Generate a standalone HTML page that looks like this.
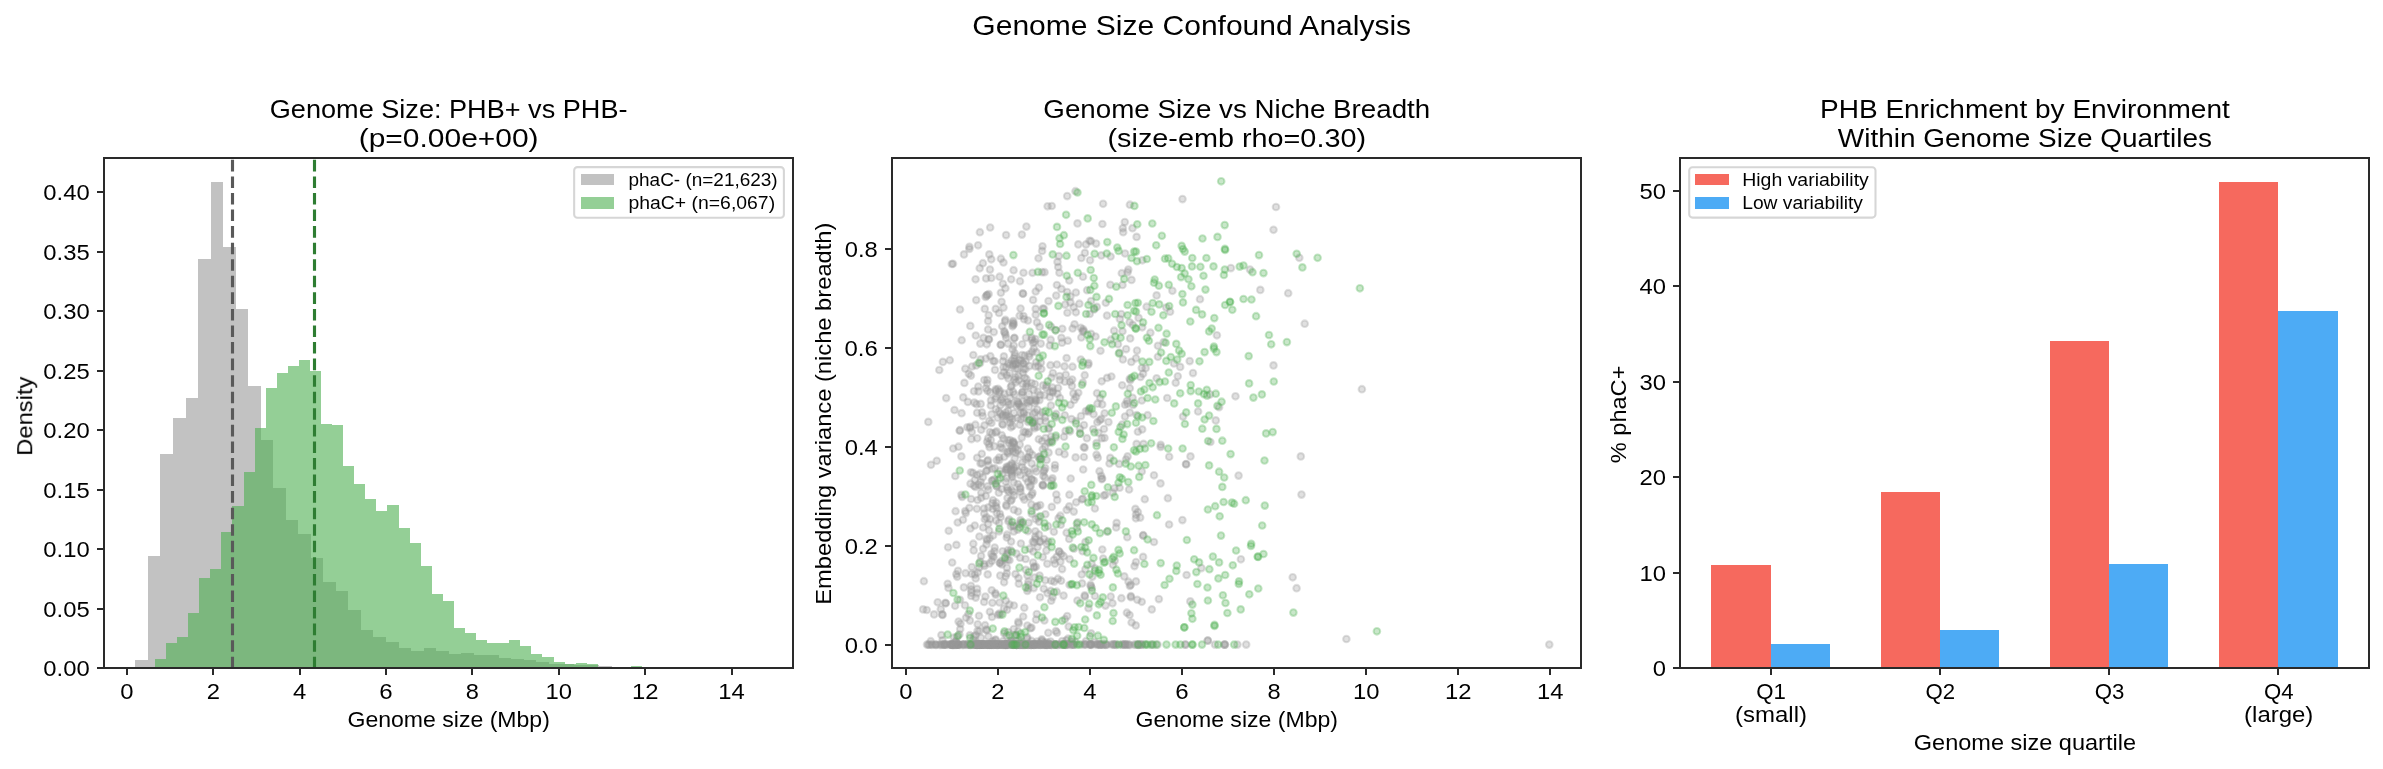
<!DOCTYPE html>
<html lang="en"><head><meta charset="utf-8"><title>Genome Size Confound Analysis</title>
<style>html,body{margin:0;padding:0;background:#fff}body{width:2383px;height:769px;overflow:hidden;font-family:"Liberation Sans",sans-serif}svg{display:block}</style>
</head><body>
<svg width="2383" height="769" viewBox="0 0 2383 769" font-family="'Liberation Sans', sans-serif" fill="#000">
<rect width="2383" height="769" fill="#fff"/>
<defs><clipPath id="c0"><rect x="104.29" y="157.5" width="688.71" height="510.78"/></clipPath><clipPath id="c1"><rect x="892.42" y="157.5" width="688.71" height="510.78"/></clipPath><clipPath id="c2"><rect x="1680.2" y="157.5" width="689.05" height="510.78"/></clipPath></defs>
<g clip-path="url(#c0)" shape-rendering="crispEdges"><g fill="#999999" fill-opacity=".6"><rect x="135.43" y="660" width="12.53" height="8.28"/><rect x="147.96" y="555.9" width="12.53" height="112.38"/><rect x="160.49" y="453.9" width="12.53" height="214.38"/><rect x="173.02" y="418" width="12.53" height="250.28"/><rect x="185.55" y="398" width="12.53" height="270.28"/><rect x="198.07" y="259.2" width="12.53" height="409.08"/><rect x="210.6" y="182.2" width="12.53" height="486.08"/><rect x="223.13" y="247" width="12.53" height="421.28"/><rect x="235.66" y="308.9" width="12.53" height="359.38"/><rect x="248.19" y="385.9" width="12.53" height="282.38"/><rect x="260.72" y="439.7" width="12.53" height="228.58"/><rect x="273.25" y="488.4" width="12.53" height="179.88"/><rect x="285.78" y="519.8" width="12.53" height="148.48"/><rect x="298.31" y="534" width="12.53" height="134.28"/><rect x="310.84" y="558.3" width="12.53" height="109.98"/><rect x="323.37" y="581.6" width="12.53" height="86.68"/><rect x="335.89" y="590.7" width="12.53" height="77.58"/><rect x="348.42" y="609.7" width="12.53" height="58.58"/><rect x="360.95" y="629.6" width="12.53" height="38.68"/><rect x="373.48" y="636.7" width="12.53" height="31.58"/><rect x="386.01" y="642.4" width="12.53" height="25.88"/><rect x="398.54" y="647.8" width="12.53" height="20.48"/><rect x="411.07" y="650.5" width="12.53" height="17.78"/><rect x="423.6" y="647.8" width="12.53" height="20.48"/><rect x="436.13" y="650.5" width="12.53" height="17.78"/><rect x="448.66" y="653.6" width="12.53" height="14.68"/><rect x="461.18" y="652.8" width="12.53" height="15.48"/><rect x="473.71" y="655" width="12.53" height="13.28"/><rect x="486.24" y="655" width="12.53" height="13.28"/><rect x="498.77" y="658" width="12.53" height="10.28"/><rect x="511.3" y="659" width="12.53" height="9.28"/><rect x="523.83" y="660" width="12.53" height="8.28"/><rect x="536.36" y="662" width="12.53" height="6.28"/><rect x="548.89" y="664" width="12.53" height="4.28"/><rect x="561.42" y="664.3" width="12.53" height="3.98"/><rect x="573.94" y="664.6" width="12.53" height="3.68"/><rect x="586.47" y="664.8" width="12.53" height="3.48"/><rect x="599" y="666.3" width="12.53" height="1.98"/><rect x="611.53" y="666.5" width="12.53" height="1.78"/><rect x="624.06" y="667.2" width="12.53" height="1.08"/><rect x="636.59" y="667.2" width="12.53" height="1.08"/><rect x="649.12" y="667.2" width="12.53" height="1.08"/><rect x="661.65" y="667.2" width="12.53" height="1.08"/><rect x="674.18" y="667.2" width="12.53" height="1.08"/><rect x="686.71" y="667.2" width="12.53" height="1.08"/><rect x="699.23" y="667.2" width="12.53" height="1.08"/><rect x="711.76" y="667.2" width="12.53" height="1.08"/><rect x="724.29" y="667.2" width="12.53" height="1.08"/><rect x="736.82" y="667.2" width="12.53" height="1.08"/><rect x="749.35" y="667.2" width="12.53" height="1.08"/></g><g fill="#4CAF50" fill-opacity=".6"><rect x="154.93" y="659.3" width="11.07" height="8.98"/><rect x="166" y="642.8" width="11.07" height="25.48"/><rect x="177.07" y="636.7" width="11.07" height="31.58"/><rect x="188.15" y="613" width="11.07" height="55.28"/><rect x="199.22" y="577.9" width="11.07" height="90.38"/><rect x="210.29" y="568.8" width="11.07" height="99.48"/><rect x="221.36" y="532" width="11.07" height="136.28"/><rect x="232.43" y="506.3" width="11.07" height="161.98"/><rect x="243.51" y="471.8" width="11.07" height="196.48"/><rect x="254.58" y="427.6" width="11.07" height="240.68"/><rect x="265.65" y="387.9" width="11.07" height="280.38"/><rect x="276.72" y="373" width="11.07" height="295.28"/><rect x="287.79" y="365.9" width="11.07" height="302.38"/><rect x="298.87" y="359.9" width="11.07" height="308.38"/><rect x="309.94" y="370.7" width="11.07" height="297.58"/><rect x="321.01" y="423.9" width="11.07" height="244.38"/><rect x="332.08" y="424.9" width="11.07" height="243.38"/><rect x="343.15" y="466.1" width="11.07" height="202.18"/><rect x="354.23" y="484" width="11.07" height="184.28"/><rect x="365.3" y="498.9" width="11.07" height="169.38"/><rect x="376.37" y="510.7" width="11.07" height="157.58"/><rect x="387.44" y="504.9" width="11.07" height="163.38"/><rect x="398.51" y="527.9" width="11.07" height="140.38"/><rect x="409.59" y="542.8" width="11.07" height="125.48"/><rect x="420.66" y="565.7" width="11.07" height="102.58"/><rect x="431.73" y="594.1" width="11.07" height="74.18"/><rect x="442.8" y="600.9" width="11.07" height="67.38"/><rect x="453.87" y="627.9" width="11.07" height="40.38"/><rect x="464.95" y="632.8" width="11.07" height="35.48"/><rect x="476.02" y="640.1" width="11.07" height="28.18"/><rect x="487.09" y="643.2" width="11.07" height="25.08"/><rect x="498.16" y="643.2" width="11.07" height="25.08"/><rect x="509.23" y="640.1" width="11.07" height="28.18"/><rect x="520.31" y="646" width="11.07" height="22.28"/><rect x="531.38" y="654" width="11.07" height="14.28"/><rect x="542.45" y="656.9" width="11.07" height="11.38"/><rect x="553.52" y="662" width="11.07" height="6.28"/><rect x="564.59" y="664.1" width="11.07" height="4.18"/><rect x="575.67" y="663.1" width="11.07" height="5.18"/><rect x="586.74" y="664" width="11.07" height="4.28"/><rect x="597.81" y="667" width="11.07" height="1.28"/><rect x="608.88" y="667" width="11.07" height="1.28"/><rect x="619.95" y="667" width="11.07" height="1.28"/><rect x="631.03" y="666.1" width="11.07" height="2.18"/><rect x="642.1" y="667.3" width="11.07" height="0.98"/><rect x="653.17" y="667.3" width="11.07" height="0.98"/><rect x="664.24" y="667.3" width="11.07" height="0.98"/><rect x="675.31" y="667.3" width="11.07" height="0.98"/><rect x="686.39" y="667.3" width="11.07" height="0.98"/><rect x="697.46" y="667.3" width="11.07" height="0.98"/></g></g><g clip-path="url(#c0)" fill="none" stroke-width="3.125" stroke-dasharray="11.5625 5"><path d="M232.5 668.28V157.5" stroke="#595959"/><path d="M314.5 668.28V157.5" stroke="#2E7D32"/></g>
<g clip-path="url(#c1)" stroke-width="2.083"><g fill="#999999" fill-opacity=".3" stroke="#999999" stroke-opacity=".3"><circle cx="969.4" cy="246.8" r="3.294"/><circle cx="978.1" cy="245.3" r="3.294"/><circle cx="979.9" cy="232.2" r="3.294"/><circle cx="990.2" cy="227.5" r="3.294"/><circle cx="1006.1" cy="235.1" r="3.294"/><circle cx="1021.9" cy="234.6" r="3.294"/><circle cx="1026.4" cy="226.6" r="3.294"/><circle cx="1042.5" cy="246.3" r="3.294"/><circle cx="1047.6" cy="206.3" r="3.294"/><circle cx="1051.8" cy="206.0" r="3.294"/><circle cx="1067.2" cy="196.1" r="3.294"/><circle cx="1075.5" cy="191.2" r="3.294"/><circle cx="1077.5" cy="223.4" r="3.294"/><circle cx="1078.3" cy="244.4" r="3.294"/><circle cx="1086.0" cy="244.4" r="3.294"/><circle cx="1089.5" cy="240.8" r="3.294"/><circle cx="1103.1" cy="203.8" r="3.294"/><circle cx="1129.9" cy="204.7" r="3.294"/><circle cx="1182.5" cy="199.1" r="3.294"/><circle cx="1102.4" cy="224.0" r="3.294"/><circle cx="1124.8" cy="222.1" r="3.294"/><circle cx="1122.8" cy="228.2" r="3.294"/><circle cx="1123.2" cy="232.2" r="3.294"/><circle cx="1132.5" cy="228.2" r="3.294"/><circle cx="1136.6" cy="236.9" r="3.294"/><circle cx="1091.0" cy="241.2" r="3.294"/><circle cx="1096.1" cy="243.6" r="3.294"/><circle cx="1276.0" cy="207.0" r="3.294"/><circle cx="1273.5" cy="229.8" r="3.294"/><circle cx="1142.4" cy="260.3" r="3.294"/><circle cx="1230.9" cy="268.1" r="3.294"/><circle cx="1250.0" cy="269.6" r="3.294"/><circle cx="1299.3" cy="257.8" r="3.294"/><circle cx="1172.4" cy="290.8" r="3.294"/><circle cx="1156.6" cy="295.4" r="3.294"/><circle cx="1200.0" cy="299.2" r="3.294"/><circle cx="1260.3" cy="289.9" r="3.294"/><circle cx="1288.2" cy="293.2" r="3.294"/><circle cx="1146.6" cy="306.7" r="3.294"/><circle cx="1166.3" cy="307.6" r="3.294"/><circle cx="1170.1" cy="311.7" r="3.294"/><circle cx="1138.6" cy="317.9" r="3.294"/><circle cx="1142.2" cy="327.3" r="3.294"/><circle cx="1150.4" cy="332.7" r="3.294"/><circle cx="1163.7" cy="342.0" r="3.294"/><circle cx="1157.9" cy="345.8" r="3.294"/><circle cx="1216.9" cy="335.3" r="3.294"/><circle cx="1304.7" cy="323.7" r="3.294"/><circle cx="1137.0" cy="350.6" r="3.294"/><circle cx="1157.9" cy="356.8" r="3.294"/><circle cx="1136.0" cy="358.3" r="3.294"/><circle cx="1174.0" cy="363.5" r="3.294"/><circle cx="1180.2" cy="366.9" r="3.294"/><circle cx="1189.7" cy="361.1" r="3.294"/><circle cx="1141.8" cy="368.0" r="3.294"/><circle cx="1145.7" cy="368.2" r="3.294"/><circle cx="1143.1" cy="373.8" r="3.294"/><circle cx="1140.5" cy="377.0" r="3.294"/><circle cx="1156.6" cy="378.3" r="3.294"/><circle cx="1177.8" cy="376.3" r="3.294"/><circle cx="1175.7" cy="382.8" r="3.294"/><circle cx="1193.0" cy="373.1" r="3.294"/><circle cx="1167.2" cy="398.0" r="3.294"/><circle cx="1141.8" cy="400.5" r="3.294"/><circle cx="1210.0" cy="394.4" r="3.294"/><circle cx="1235.5" cy="396.3" r="3.294"/><circle cx="1219.1" cy="407.2" r="3.294"/><circle cx="1198.1" cy="411.5" r="3.294"/><circle cx="1183.0" cy="416.6" r="3.294"/><circle cx="1215.8" cy="420.4" r="3.294"/><circle cx="1147.6" cy="415.2" r="3.294"/><circle cx="1136.6" cy="415.0" r="3.294"/><circle cx="1142.2" cy="429.4" r="3.294"/><circle cx="1137.9" cy="431.7" r="3.294"/><circle cx="1143.5" cy="443.9" r="3.294"/><circle cx="1160.7" cy="444.8" r="3.294"/><circle cx="1136.6" cy="443.9" r="3.294"/><circle cx="1210.4" cy="442.0" r="3.294"/><circle cx="1273.5" cy="365.4" r="3.294"/><circle cx="1160.7" cy="447.0" r="3.294"/><circle cx="1169.2" cy="456.7" r="3.294"/><circle cx="1190.5" cy="456.4" r="3.294"/><circle cx="1186.0" cy="464.0" r="3.294"/><circle cx="1186.2" cy="464.4" r="3.294"/><circle cx="1141.8" cy="471.5" r="3.294"/><circle cx="1154.0" cy="475.3" r="3.294"/><circle cx="1160.5" cy="483.4" r="3.294"/><circle cx="1238.6" cy="475.6" r="3.294"/><circle cx="1300.8" cy="456.4" r="3.294"/><circle cx="1144.8" cy="499.2" r="3.294"/><circle cx="1167.9" cy="498.2" r="3.294"/><circle cx="1301.5" cy="494.6" r="3.294"/><circle cx="1137.9" cy="512.0" r="3.294"/><circle cx="1140.2" cy="517.6" r="3.294"/><circle cx="1136.0" cy="514.6" r="3.294"/><circle cx="1182.4" cy="520.1" r="3.294"/><circle cx="1169.1" cy="524.5" r="3.294"/><circle cx="1143.1" cy="535.2" r="3.294"/><circle cx="1143.3" cy="535.6" r="3.294"/><circle cx="1154.0" cy="542.0" r="3.294"/><circle cx="1143.1" cy="556.9" r="3.294"/><circle cx="1136.0" cy="562.1" r="3.294"/><circle cx="1240.9" cy="559.3" r="3.294"/><circle cx="1201.4" cy="568.1" r="3.294"/><circle cx="1186.6" cy="575.0" r="3.294"/><circle cx="1136.0" cy="581.4" r="3.294"/><circle cx="1292.7" cy="577.3" r="3.294"/><circle cx="1296.6" cy="588.2" r="3.294"/><circle cx="1158.9" cy="599.1" r="3.294"/><circle cx="1137.3" cy="599.8" r="3.294"/><circle cx="1141.8" cy="601.8" r="3.294"/><circle cx="1190.3" cy="601.4" r="3.294"/><circle cx="1151.8" cy="609.4" r="3.294"/><circle cx="1207.7" cy="640.6" r="3.294"/><circle cx="1361.9" cy="389.2" r="3.294"/><circle cx="1346.4" cy="639.0" r="3.294"/><circle cx="1549.3" cy="644.6" r="3.294"/><circle cx="1141.2" cy="644.6" r="3.294"/><circle cx="1151.0" cy="644.6" r="3.294"/><circle cx="1157.5" cy="644.6" r="3.294"/><circle cx="1185.2" cy="644.6" r="3.294"/><circle cx="1185.6" cy="644.6" r="3.294"/><circle cx="1215.0" cy="644.6" r="3.294"/><circle cx="1224.2" cy="644.6" r="3.294"/><circle cx="1224.8" cy="644.6" r="3.294"/><circle cx="1225.0" cy="644.6" r="3.294"/><circle cx="1237.4" cy="644.6" r="3.294"/><circle cx="1246.2" cy="644.6" r="3.294"/><circle cx="1207.9" cy="640.5" r="3.294"/><circle cx="942.9" cy="361.9" r="3.294"/><circle cx="949.8" cy="360.2" r="3.294"/><circle cx="939.3" cy="370.0" r="3.294"/><circle cx="946.2" cy="398.1" r="3.294"/><circle cx="928.3" cy="421.9" r="3.294"/><circle cx="936.8" cy="460.8" r="3.294"/><circle cx="931.0" cy="464.8" r="3.294"/><circle cx="951.8" cy="264.0" r="3.294"/><circle cx="948.7" cy="530.8" r="3.294"/><circle cx="948.1" cy="547.3" r="3.294"/><circle cx="923.9" cy="581.2" r="3.294"/><circle cx="947.7" cy="583.8" r="3.294"/><circle cx="948.5" cy="587.9" r="3.294"/><circle cx="937.7" cy="602.3" r="3.294"/><circle cx="945.4" cy="602.9" r="3.294"/><circle cx="945.8" cy="603.3" r="3.294"/><circle cx="923.1" cy="609.4" r="3.294"/><circle cx="926.8" cy="610.0" r="3.294"/><circle cx="934.1" cy="614.4" r="3.294"/><circle cx="942.2" cy="614.4" r="3.294"/><circle cx="942.6" cy="614.9" r="3.294"/><circle cx="940.8" cy="609.2" r="3.294"/><circle cx="985.8" cy="496.0" r="3.294"/><circle cx="1032.9" cy="422.1" r="3.294"/><circle cx="1015.5" cy="448.3" r="3.294"/><circle cx="977.7" cy="624.3" r="3.294"/><circle cx="957.7" cy="522.5" r="3.294"/><circle cx="1010.3" cy="398.0" r="3.294"/><circle cx="1024.4" cy="499.6" r="3.294"/><circle cx="999.5" cy="602.5" r="3.294"/><circle cx="1027.2" cy="415.2" r="3.294"/><circle cx="1007.7" cy="559.8" r="3.294"/><circle cx="1009.5" cy="604.5" r="3.294"/><circle cx="1006.7" cy="375.3" r="3.294"/><circle cx="975.5" cy="487.0" r="3.294"/><circle cx="1125.0" cy="404.7" r="3.294"/><circle cx="961.4" cy="456.4" r="3.294"/><circle cx="995.8" cy="506.2" r="3.294"/><circle cx="971.2" cy="589.6" r="3.294"/><circle cx="1056.1" cy="413.9" r="3.294"/><circle cx="1003.0" cy="402.2" r="3.294"/><circle cx="1013.0" cy="365.7" r="3.294"/><circle cx="1045.3" cy="580.3" r="3.294"/><circle cx="1017.0" cy="401.1" r="3.294"/><circle cx="1098.4" cy="432.8" r="3.294"/><circle cx="986.5" cy="517.4" r="3.294"/><circle cx="1030.4" cy="628.2" r="3.294"/><circle cx="999.2" cy="457.5" r="3.294"/><circle cx="1114.4" cy="488.3" r="3.294"/><circle cx="1001.3" cy="400.0" r="3.294"/><circle cx="1047.3" cy="563.8" r="3.294"/><circle cx="1101.2" cy="475.9" r="3.294"/><circle cx="1006.8" cy="537.5" r="3.294"/><circle cx="1012.3" cy="476.9" r="3.294"/><circle cx="1102.2" cy="478.5" r="3.294"/><circle cx="1020.0" cy="524.3" r="3.294"/><circle cx="1037.8" cy="391.6" r="3.294"/><circle cx="995.7" cy="389.4" r="3.294"/><circle cx="999.8" cy="562.8" r="3.294"/><circle cx="1072.5" cy="366.7" r="3.294"/><circle cx="1049.9" cy="397.1" r="3.294"/><circle cx="1028.3" cy="584.6" r="3.294"/><circle cx="1029.0" cy="394.1" r="3.294"/><circle cx="970.9" cy="375.6" r="3.294"/><circle cx="1073.9" cy="548.7" r="3.294"/><circle cx="965.0" cy="605.3" r="3.294"/><circle cx="1107.1" cy="531.6" r="3.294"/><circle cx="992.5" cy="468.9" r="3.294"/><circle cx="990.8" cy="405.5" r="3.294"/><circle cx="958.6" cy="621.6" r="3.294"/><circle cx="1008.3" cy="453.5" r="3.294"/><circle cx="1010.8" cy="471.1" r="3.294"/><circle cx="980.6" cy="359.4" r="3.294"/><circle cx="1084.9" cy="596.6" r="3.294"/><circle cx="962.1" cy="497.0" r="3.294"/><circle cx="1077.4" cy="600.5" r="3.294"/><circle cx="1036.1" cy="362.3" r="3.294"/><circle cx="976.2" cy="365.4" r="3.294"/><circle cx="1012.5" cy="419.1" r="3.294"/><circle cx="1043.8" cy="588.7" r="3.294"/><circle cx="1067.2" cy="616.1" r="3.294"/><circle cx="1027.8" cy="457.1" r="3.294"/><circle cx="1069.7" cy="559.2" r="3.294"/><circle cx="1020.9" cy="522.1" r="3.294"/><circle cx="1073.8" cy="511.6" r="3.294"/><circle cx="996.0" cy="520.5" r="3.294"/><circle cx="989.1" cy="530.5" r="3.294"/><circle cx="1006.0" cy="412.5" r="3.294"/><circle cx="1034.9" cy="384.1" r="3.294"/><circle cx="965.8" cy="513.1" r="3.294"/><circle cx="1042.6" cy="484.8" r="3.294"/><circle cx="982.0" cy="412.4" r="3.294"/><circle cx="1017.2" cy="418.0" r="3.294"/><circle cx="971.8" cy="567.0" r="3.294"/><circle cx="1010.2" cy="422.8" r="3.294"/><circle cx="1122.9" cy="359.4" r="3.294"/><circle cx="1056.9" cy="364.5" r="3.294"/><circle cx="1126.1" cy="349.1" r="3.294"/><circle cx="1022.3" cy="392.5" r="3.294"/><circle cx="1090.8" cy="586.3" r="3.294"/><circle cx="1056.7" cy="556.9" r="3.294"/><circle cx="1005.6" cy="576.3" r="3.294"/><circle cx="1096.5" cy="443.0" r="3.294"/><circle cx="1043.0" cy="485.0" r="3.294"/><circle cx="1027.6" cy="471.6" r="3.294"/><circle cx="1013.2" cy="451.6" r="3.294"/><circle cx="1015.7" cy="368.8" r="3.294"/><circle cx="1103.8" cy="495.6" r="3.294"/><circle cx="1053.9" cy="531.8" r="3.294"/><circle cx="1008.3" cy="521.2" r="3.294"/><circle cx="1006.2" cy="504.9" r="3.294"/><circle cx="1009.6" cy="372.8" r="3.294"/><circle cx="1096.5" cy="454.7" r="3.294"/><circle cx="1077.0" cy="527.8" r="3.294"/><circle cx="1010.0" cy="417.3" r="3.294"/><circle cx="1104.0" cy="429.0" r="3.294"/><circle cx="1046.4" cy="550.6" r="3.294"/><circle cx="1024.4" cy="470.1" r="3.294"/><circle cx="1014.9" cy="355.7" r="3.294"/><circle cx="1002.5" cy="448.6" r="3.294"/><circle cx="963.2" cy="397.4" r="3.294"/><circle cx="953.2" cy="448.5" r="3.294"/><circle cx="1032.0" cy="480.1" r="3.294"/><circle cx="1088.9" cy="409.6" r="3.294"/><circle cx="1011.1" cy="470.4" r="3.294"/><circle cx="965.6" cy="573.2" r="3.294"/><circle cx="973.0" cy="472.9" r="3.294"/><circle cx="1009.7" cy="451.1" r="3.294"/><circle cx="996.7" cy="508.0" r="3.294"/><circle cx="969.8" cy="635.2" r="3.294"/><circle cx="989.9" cy="611.8" r="3.294"/><circle cx="1022.2" cy="406.6" r="3.294"/><circle cx="984.2" cy="564.0" r="3.294"/><circle cx="1007.4" cy="452.1" r="3.294"/><circle cx="1056.3" cy="494.5" r="3.294"/><circle cx="1032.1" cy="351.7" r="3.294"/><circle cx="1004.1" cy="582.3" r="3.294"/><circle cx="1063.6" cy="595.6" r="3.294"/><circle cx="1046.6" cy="385.3" r="3.294"/><circle cx="1059.1" cy="551.3" r="3.294"/><circle cx="974.3" cy="402.6" r="3.294"/><circle cx="1013.9" cy="509.8" r="3.294"/><circle cx="1014.7" cy="353.1" r="3.294"/><circle cx="1046.7" cy="543.7" r="3.294"/><circle cx="995.0" cy="369.9" r="3.294"/><circle cx="1044.1" cy="539.0" r="3.294"/><circle cx="960.2" cy="629.0" r="3.294"/><circle cx="1014.3" cy="470.1" r="3.294"/><circle cx="1001.9" cy="564.4" r="3.294"/><circle cx="1040.2" cy="541.7" r="3.294"/><circle cx="1003.8" cy="372.3" r="3.294"/><circle cx="965.2" cy="511.1" r="3.294"/><circle cx="974.1" cy="636.4" r="3.294"/><circle cx="1025.8" cy="478.4" r="3.294"/><circle cx="1040.0" cy="597.3" r="3.294"/><circle cx="1048.6" cy="452.6" r="3.294"/><circle cx="981.3" cy="492.8" r="3.294"/><circle cx="1007.6" cy="440.1" r="3.294"/><circle cx="999.1" cy="531.3" r="3.294"/><circle cx="1084.7" cy="375.2" r="3.294"/><circle cx="980.7" cy="403.9" r="3.294"/><circle cx="1023.0" cy="372.8" r="3.294"/><circle cx="980.5" cy="463.5" r="3.294"/><circle cx="1129.7" cy="378.7" r="3.294"/><circle cx="1003.5" cy="367.2" r="3.294"/><circle cx="1025.7" cy="361.5" r="3.294"/><circle cx="1052.9" cy="373.1" r="3.294"/><circle cx="1010.7" cy="501.0" r="3.294"/><circle cx="1012.5" cy="349.2" r="3.294"/><circle cx="1034.2" cy="542.7" r="3.294"/><circle cx="1051.6" cy="440.7" r="3.294"/><circle cx="992.5" cy="556.1" r="3.294"/><circle cx="956.4" cy="544.9" r="3.294"/><circle cx="979.0" cy="615.8" r="3.294"/><circle cx="1055.6" cy="437.5" r="3.294"/><circle cx="1011.5" cy="446.0" r="3.294"/><circle cx="1058.5" cy="518.4" r="3.294"/><circle cx="1009.4" cy="392.2" r="3.294"/><circle cx="1014.1" cy="495.4" r="3.294"/><circle cx="1086.9" cy="438.2" r="3.294"/><circle cx="1011.1" cy="541.6" r="3.294"/><circle cx="1101.6" cy="479.1" r="3.294"/><circle cx="1043.1" cy="385.4" r="3.294"/><circle cx="1015.8" cy="382.3" r="3.294"/><circle cx="957.0" cy="636.9" r="3.294"/><circle cx="1020.4" cy="491.7" r="3.294"/><circle cx="988.8" cy="444.1" r="3.294"/><circle cx="1097.3" cy="422.2" r="3.294"/><circle cx="988.2" cy="523.8" r="3.294"/><circle cx="1082.9" cy="498.8" r="3.294"/><circle cx="1035.0" cy="398.9" r="3.294"/><circle cx="1103.2" cy="558.6" r="3.294"/><circle cx="979.1" cy="567.7" r="3.294"/><circle cx="973.7" cy="550.4" r="3.294"/><circle cx="1011.6" cy="385.5" r="3.294"/><circle cx="1029.7" cy="486.7" r="3.294"/><circle cx="1015.4" cy="377.1" r="3.294"/><circle cx="970.9" cy="585.8" r="3.294"/><circle cx="1023.5" cy="431.7" r="3.294"/><circle cx="981.1" cy="555.9" r="3.294"/><circle cx="1025.4" cy="369.0" r="3.294"/><circle cx="1031.8" cy="494.7" r="3.294"/><circle cx="1017.8" cy="450.4" r="3.294"/><circle cx="988.0" cy="460.1" r="3.294"/><circle cx="1023.5" cy="369.2" r="3.294"/><circle cx="1000.7" cy="517.0" r="3.294"/><circle cx="996.7" cy="460.2" r="3.294"/><circle cx="955.6" cy="511.2" r="3.294"/><circle cx="1025.8" cy="459.5" r="3.294"/><circle cx="982.7" cy="416.1" r="3.294"/><circle cx="1035.4" cy="531.3" r="3.294"/><circle cx="1059.8" cy="380.1" r="3.294"/><circle cx="986.1" cy="471.1" r="3.294"/><circle cx="1060.8" cy="524.8" r="3.294"/><circle cx="1045.1" cy="446.6" r="3.294"/><circle cx="1056.7" cy="591.7" r="3.294"/><circle cx="1107.1" cy="377.9" r="3.294"/><circle cx="1065.6" cy="430.9" r="3.294"/><circle cx="1081.0" cy="416.1" r="3.294"/><circle cx="1028.6" cy="522.7" r="3.294"/><circle cx="1028.9" cy="406.9" r="3.294"/><circle cx="973.3" cy="355.0" r="3.294"/><circle cx="1126.9" cy="401.0" r="3.294"/><circle cx="1135.8" cy="625.4" r="3.294"/><circle cx="1010.9" cy="386.7" r="3.294"/><circle cx="1006.6" cy="415.0" r="3.294"/><circle cx="1007.5" cy="498.0" r="3.294"/><circle cx="1121.4" cy="598.2" r="3.294"/><circle cx="1007.3" cy="487.5" r="3.294"/><circle cx="991.4" cy="553.9" r="3.294"/><circle cx="1069.2" cy="506.4" r="3.294"/><circle cx="969.4" cy="507.9" r="3.294"/><circle cx="1016.5" cy="635.2" r="3.294"/><circle cx="1104.6" cy="413.3" r="3.294"/><circle cx="1034.8" cy="412.4" r="3.294"/><circle cx="987.1" cy="383.5" r="3.294"/><circle cx="1022.0" cy="394.5" r="3.294"/><circle cx="1050.3" cy="442.0" r="3.294"/><circle cx="971.3" cy="592.6" r="3.294"/><circle cx="1011.7" cy="465.3" r="3.294"/><circle cx="1011.4" cy="489.8" r="3.294"/><circle cx="1108.5" cy="422.1" r="3.294"/><circle cx="1031.4" cy="479.0" r="3.294"/><circle cx="991.5" cy="414.4" r="3.294"/><circle cx="1070.0" cy="381.8" r="3.294"/><circle cx="1048.7" cy="428.0" r="3.294"/><circle cx="975.7" cy="597.6" r="3.294"/><circle cx="992.2" cy="433.3" r="3.294"/><circle cx="1055.6" cy="417.5" r="3.294"/><circle cx="1001.4" cy="375.9" r="3.294"/><circle cx="968.8" cy="373.8" r="3.294"/><circle cx="1039.0" cy="534.6" r="3.294"/><circle cx="1051.2" cy="600.7" r="3.294"/><circle cx="1040.1" cy="415.7" r="3.294"/><circle cx="995.7" cy="594.7" r="3.294"/><circle cx="1029.2" cy="354.3" r="3.294"/><circle cx="1124.3" cy="576.4" r="3.294"/><circle cx="1007.6" cy="469.2" r="3.294"/><circle cx="973.9" cy="485.8" r="3.294"/><circle cx="993.7" cy="557.0" r="3.294"/><circle cx="990.0" cy="432.0" r="3.294"/><circle cx="1048.1" cy="526.2" r="3.294"/><circle cx="1127.3" cy="537.2" r="3.294"/><circle cx="1013.0" cy="525.4" r="3.294"/><circle cx="1019.2" cy="359.9" r="3.294"/><circle cx="1006.7" cy="554.2" r="3.294"/><circle cx="1029.8" cy="452.2" r="3.294"/><circle cx="1030.1" cy="420.4" r="3.294"/><circle cx="1002.6" cy="551.3" r="3.294"/><circle cx="977.1" cy="588.9" r="3.294"/><circle cx="1039.6" cy="575.6" r="3.294"/><circle cx="1002.3" cy="423.9" r="3.294"/><circle cx="1022.2" cy="467.1" r="3.294"/><circle cx="1031.5" cy="627.6" r="3.294"/><circle cx="985.4" cy="596.5" r="3.294"/><circle cx="1051.5" cy="485.2" r="3.294"/><circle cx="1006.6" cy="506.2" r="3.294"/><circle cx="1007.5" cy="490.1" r="3.294"/><circle cx="958.5" cy="446.7" r="3.294"/><circle cx="1111.4" cy="376.5" r="3.294"/><circle cx="1011.8" cy="463.6" r="3.294"/><circle cx="984.8" cy="519.2" r="3.294"/><circle cx="1020.5" cy="454.5" r="3.294"/><circle cx="967.9" cy="401.9" r="3.294"/><circle cx="1122.1" cy="424.6" r="3.294"/><circle cx="1072.0" cy="385.9" r="3.294"/><circle cx="1018.2" cy="621.9" r="3.294"/><circle cx="1036.4" cy="471.5" r="3.294"/><circle cx="1009.8" cy="364.7" r="3.294"/><circle cx="1020.3" cy="488.9" r="3.294"/><circle cx="987.3" cy="540.3" r="3.294"/><circle cx="1050.9" cy="405.6" r="3.294"/><circle cx="1018.1" cy="403.8" r="3.294"/><circle cx="1009.1" cy="519.6" r="3.294"/><circle cx="994.0" cy="479.6" r="3.294"/><circle cx="1032.3" cy="454.9" r="3.294"/><circle cx="959.9" cy="430.2" r="3.294"/><circle cx="1070.4" cy="404.8" r="3.294"/><circle cx="1029.4" cy="356.5" r="3.294"/><circle cx="1044.4" cy="620.5" r="3.294"/><circle cx="960.0" cy="599.8" r="3.294"/><circle cx="1000.2" cy="575.6" r="3.294"/><circle cx="1043.5" cy="471.6" r="3.294"/><circle cx="1091.1" cy="633.4" r="3.294"/><circle cx="988.5" cy="465.0" r="3.294"/><circle cx="1075.9" cy="421.0" r="3.294"/><circle cx="1004.0" cy="608.6" r="3.294"/><circle cx="1009.4" cy="419.4" r="3.294"/><circle cx="1039.1" cy="521.8" r="3.294"/><circle cx="1127.6" cy="456.4" r="3.294"/><circle cx="1069.2" cy="538.9" r="3.294"/><circle cx="995.9" cy="409.2" r="3.294"/><circle cx="1046.2" cy="387.7" r="3.294"/><circle cx="1031.7" cy="513.7" r="3.294"/><circle cx="977.6" cy="500.0" r="3.294"/><circle cx="1042.7" cy="449.3" r="3.294"/><circle cx="1022.4" cy="392.0" r="3.294"/><circle cx="1033.3" cy="551.5" r="3.294"/><circle cx="1054.8" cy="468.4" r="3.294"/><circle cx="1094.9" cy="568.3" r="3.294"/><circle cx="987.3" cy="379.9" r="3.294"/><circle cx="956.3" cy="574.3" r="3.294"/><circle cx="985.9" cy="358.6" r="3.294"/><circle cx="1083.9" cy="457.0" r="3.294"/><circle cx="1028.0" cy="531.1" r="3.294"/><circle cx="984.5" cy="425.4" r="3.294"/><circle cx="1048.2" cy="541.5" r="3.294"/><circle cx="1025.5" cy="432.2" r="3.294"/><circle cx="1027.4" cy="591.0" r="3.294"/><circle cx="1004.3" cy="456.8" r="3.294"/><circle cx="983.1" cy="527.5" r="3.294"/><circle cx="1021.8" cy="437.6" r="3.294"/><circle cx="1015.7" cy="452.6" r="3.294"/><circle cx="1008.4" cy="378.5" r="3.294"/><circle cx="1094.9" cy="508.5" r="3.294"/><circle cx="985.1" cy="625.2" r="3.294"/><circle cx="1101.2" cy="418.9" r="3.294"/><circle cx="1125.0" cy="416.6" r="3.294"/><circle cx="1050.5" cy="365.2" r="3.294"/><circle cx="1029.7" cy="548.7" r="3.294"/><circle cx="993.3" cy="361.1" r="3.294"/><circle cx="1100.5" cy="350.8" r="3.294"/><circle cx="1088.2" cy="364.8" r="3.294"/><circle cx="1101.9" cy="438.2" r="3.294"/><circle cx="1024.8" cy="377.8" r="3.294"/><circle cx="1126.0" cy="459.6" r="3.294"/><circle cx="997.7" cy="417.8" r="3.294"/><circle cx="1055.9" cy="631.0" r="3.294"/><circle cx="1038.8" cy="439.2" r="3.294"/><circle cx="977.6" cy="630.9" r="3.294"/><circle cx="977.1" cy="457.8" r="3.294"/><circle cx="995.6" cy="432.5" r="3.294"/><circle cx="1012.6" cy="425.9" r="3.294"/><circle cx="977.1" cy="412.8" r="3.294"/><circle cx="1051.5" cy="480.4" r="3.294"/><circle cx="1003.0" cy="424.8" r="3.294"/><circle cx="975.7" cy="578.4" r="3.294"/><circle cx="1022.9" cy="362.9" r="3.294"/><circle cx="961.4" cy="494.9" r="3.294"/><circle cx="1099.8" cy="420.3" r="3.294"/><circle cx="968.5" cy="614.0" r="3.294"/><circle cx="1013.8" cy="629.0" r="3.294"/><circle cx="970.5" cy="483.7" r="3.294"/><circle cx="1016.5" cy="553.6" r="3.294"/><circle cx="1040.0" cy="456.4" r="3.294"/><circle cx="978.5" cy="391.4" r="3.294"/><circle cx="1047.5" cy="593.3" r="3.294"/><circle cx="984.5" cy="566.0" r="3.294"/><circle cx="986.6" cy="538.8" r="3.294"/><circle cx="957.2" cy="576.8" r="3.294"/><circle cx="1000.9" cy="443.7" r="3.294"/><circle cx="999.1" cy="523.1" r="3.294"/><circle cx="1039.4" cy="400.2" r="3.294"/><circle cx="1007.9" cy="550.2" r="3.294"/><circle cx="1005.5" cy="416.4" r="3.294"/><circle cx="1023.5" cy="363.7" r="3.294"/><circle cx="984.2" cy="513.5" r="3.294"/><circle cx="1018.1" cy="511.5" r="3.294"/><circle cx="1059.1" cy="551.8" r="3.294"/><circle cx="1129.6" cy="615.0" r="3.294"/><circle cx="991.0" cy="400.4" r="3.294"/><circle cx="1051.8" cy="506.9" r="3.294"/><circle cx="970.4" cy="528.5" r="3.294"/><circle cx="1126.9" cy="612.7" r="3.294"/><circle cx="1013.7" cy="482.5" r="3.294"/><circle cx="981.2" cy="497.8" r="3.294"/><circle cx="1091.8" cy="588.0" r="3.294"/><circle cx="1012.8" cy="441.8" r="3.294"/><circle cx="1092.4" cy="576.6" r="3.294"/><circle cx="987.6" cy="486.3" r="3.294"/><circle cx="1043.1" cy="485.8" r="3.294"/><circle cx="976.9" cy="508.8" r="3.294"/><circle cx="1023.9" cy="413.3" r="3.294"/><circle cx="1065.8" cy="374.7" r="3.294"/><circle cx="1102.2" cy="404.4" r="3.294"/><circle cx="984.0" cy="508.5" r="3.294"/><circle cx="1114.8" cy="560.6" r="3.294"/><circle cx="1085.9" cy="411.1" r="3.294"/><circle cx="980.0" cy="473.7" r="3.294"/><circle cx="1051.2" cy="436.6" r="3.294"/><circle cx="1048.3" cy="632.8" r="3.294"/><circle cx="974.9" cy="479.8" r="3.294"/><circle cx="1009.5" cy="560.3" r="3.294"/><circle cx="1038.5" cy="457.0" r="3.294"/><circle cx="1038.3" cy="366.3" r="3.294"/><circle cx="1013.9" cy="605.5" r="3.294"/><circle cx="980.7" cy="481.8" r="3.294"/><circle cx="1042.8" cy="557.1" r="3.294"/><circle cx="978.3" cy="386.5" r="3.294"/><circle cx="1033.9" cy="480.6" r="3.294"/><circle cx="1053.9" cy="559.9" r="3.294"/><circle cx="1119.6" cy="487.7" r="3.294"/><circle cx="1018.8" cy="623.4" r="3.294"/><circle cx="1036.4" cy="352.2" r="3.294"/><circle cx="992.7" cy="509.0" r="3.294"/><circle cx="1057.9" cy="578.7" r="3.294"/><circle cx="1014.0" cy="413.0" r="3.294"/><circle cx="1012.7" cy="448.2" r="3.294"/><circle cx="1113.0" cy="564.8" r="3.294"/><circle cx="991.7" cy="561.0" r="3.294"/><circle cx="1038.4" cy="517.2" r="3.294"/><circle cx="1019.8" cy="424.7" r="3.294"/><circle cx="1040.2" cy="505.1" r="3.294"/><circle cx="965.3" cy="368.7" r="3.294"/><circle cx="1033.9" cy="348.5" r="3.294"/><circle cx="1129.9" cy="586.0" r="3.294"/><circle cx="1013.2" cy="364.2" r="3.294"/><circle cx="1013.6" cy="441.7" r="3.294"/><circle cx="988.4" cy="636.6" r="3.294"/><circle cx="1044.4" cy="395.2" r="3.294"/><circle cx="1019.8" cy="444.6" r="3.294"/><circle cx="1100.2" cy="398.0" r="3.294"/><circle cx="1105.4" cy="494.8" r="3.294"/><circle cx="1008.9" cy="443.2" r="3.294"/><circle cx="1018.0" cy="402.2" r="3.294"/><circle cx="987.7" cy="574.4" r="3.294"/><circle cx="1003.0" cy="361.2" r="3.294"/><circle cx="1076.1" cy="396.9" r="3.294"/><circle cx="989.6" cy="447.2" r="3.294"/><circle cx="987.4" cy="461.0" r="3.294"/><circle cx="999.2" cy="460.2" r="3.294"/><circle cx="1022.5" cy="462.2" r="3.294"/><circle cx="995.3" cy="399.1" r="3.294"/><circle cx="964.4" cy="382.9" r="3.294"/><circle cx="982.0" cy="463.3" r="3.294"/><circle cx="1010.9" cy="526.4" r="3.294"/><circle cx="1003.4" cy="438.5" r="3.294"/><circle cx="1018.5" cy="375.9" r="3.294"/><circle cx="994.7" cy="468.3" r="3.294"/><circle cx="1008.0" cy="410.8" r="3.294"/><circle cx="1063.7" cy="556.2" r="3.294"/><circle cx="1072.2" cy="379.5" r="3.294"/><circle cx="959.7" cy="430.7" r="3.294"/><circle cx="1014.1" cy="467.4" r="3.294"/><circle cx="1024.3" cy="607.7" r="3.294"/><circle cx="1027.8" cy="448.5" r="3.294"/><circle cx="1013.3" cy="443.2" r="3.294"/><circle cx="1008.4" cy="363.2" r="3.294"/><circle cx="1027.1" cy="400.1" r="3.294"/><circle cx="1037.4" cy="426.8" r="3.294"/><circle cx="1090.6" cy="584.7" r="3.294"/><circle cx="992.0" cy="616.9" r="3.294"/><circle cx="1070.1" cy="431.3" r="3.294"/><circle cx="1026.6" cy="379.2" r="3.294"/><circle cx="1025.9" cy="386.5" r="3.294"/><circle cx="1058.1" cy="388.0" r="3.294"/><circle cx="1013.9" cy="358.1" r="3.294"/><circle cx="952.2" cy="562.5" r="3.294"/><circle cx="1030.9" cy="400.3" r="3.294"/><circle cx="989.5" cy="563.5" r="3.294"/><circle cx="1046.6" cy="460.0" r="3.294"/><circle cx="1077.7" cy="522.3" r="3.294"/><circle cx="1045.0" cy="477.6" r="3.294"/><circle cx="1000.5" cy="405.2" r="3.294"/><circle cx="994.7" cy="547.6" r="3.294"/><circle cx="1007.1" cy="609.8" r="3.294"/><circle cx="1005.9" cy="600.7" r="3.294"/><circle cx="961.6" cy="413.2" r="3.294"/><circle cx="979.4" cy="536.5" r="3.294"/><circle cx="1039.9" cy="421.5" r="3.294"/><circle cx="1050.8" cy="590.9" r="3.294"/><circle cx="998.8" cy="411.6" r="3.294"/><circle cx="1008.6" cy="404.6" r="3.294"/><circle cx="1019.0" cy="404.3" r="3.294"/><circle cx="999.9" cy="513.9" r="3.294"/><circle cx="1023.3" cy="412.3" r="3.294"/><circle cx="1130.7" cy="584.8" r="3.294"/><circle cx="1014.5" cy="635.4" r="3.294"/><circle cx="1016.6" cy="406.2" r="3.294"/><circle cx="1002.7" cy="415.2" r="3.294"/><circle cx="1028.2" cy="588.5" r="3.294"/><circle cx="1009.6" cy="465.6" r="3.294"/><circle cx="1037.5" cy="506.2" r="3.294"/><circle cx="978.4" cy="484.6" r="3.294"/><circle cx="1036.4" cy="400.6" r="3.294"/><circle cx="1099.5" cy="471.2" r="3.294"/><circle cx="990.3" cy="392.4" r="3.294"/><circle cx="1000.4" cy="413.6" r="3.294"/><circle cx="1034.1" cy="566.7" r="3.294"/><circle cx="967.3" cy="427.3" r="3.294"/><circle cx="1020.1" cy="487.4" r="3.294"/><circle cx="1066.6" cy="358.1" r="3.294"/><circle cx="1135.9" cy="518.3" r="3.294"/><circle cx="1045.3" cy="468.1" r="3.294"/><circle cx="1000.7" cy="447.4" r="3.294"/><circle cx="971.4" cy="439.1" r="3.294"/><circle cx="1102.3" cy="549.5" r="3.294"/><circle cx="1014.7" cy="458.6" r="3.294"/><circle cx="1048.5" cy="442.8" r="3.294"/><circle cx="1013.1" cy="391.9" r="3.294"/><circle cx="1004.1" cy="633.2" r="3.294"/><circle cx="1018.8" cy="380.2" r="3.294"/><circle cx="990.0" cy="519.0" r="3.294"/><circle cx="988.1" cy="438.2" r="3.294"/><circle cx="1020.1" cy="557.7" r="3.294"/><circle cx="1015.6" cy="364.0" r="3.294"/><circle cx="958.0" cy="570.8" r="3.294"/><circle cx="996.3" cy="485.7" r="3.294"/><circle cx="1033.1" cy="562.6" r="3.294"/><circle cx="1023.7" cy="417.6" r="3.294"/><circle cx="990.9" cy="440.0" r="3.294"/><circle cx="1034.7" cy="577.6" r="3.294"/><circle cx="1020.5" cy="520.1" r="3.294"/><circle cx="999.3" cy="613.5" r="3.294"/><circle cx="1042.1" cy="441.1" r="3.294"/><circle cx="1110.2" cy="457.9" r="3.294"/><circle cx="1001.8" cy="489.0" r="3.294"/><circle cx="994.4" cy="551.3" r="3.294"/><circle cx="974.8" cy="574.5" r="3.294"/><circle cx="983.1" cy="548.8" r="3.294"/><circle cx="970.0" cy="426.8" r="3.294"/><circle cx="998.3" cy="480.3" r="3.294"/><circle cx="1021.5" cy="523.7" r="3.294"/><circle cx="1031.5" cy="383.1" r="3.294"/><circle cx="1037.5" cy="547.1" r="3.294"/><circle cx="1129.1" cy="489.5" r="3.294"/><circle cx="1052.6" cy="392.5" r="3.294"/><circle cx="1071.5" cy="419.1" r="3.294"/><circle cx="1085.5" cy="541.9" r="3.294"/><circle cx="1081.8" cy="499.3" r="3.294"/><circle cx="1060.0" cy="398.0" r="3.294"/><circle cx="1131.3" cy="361.9" r="3.294"/><circle cx="1040.9" cy="362.5" r="3.294"/><circle cx="1129.8" cy="388.2" r="3.294"/><circle cx="1001.8" cy="435.2" r="3.294"/><circle cx="969.9" cy="620.6" r="3.294"/><circle cx="984.3" cy="380.0" r="3.294"/><circle cx="981.2" cy="429.8" r="3.294"/><circle cx="996.3" cy="502.7" r="3.294"/><circle cx="1031.4" cy="504.6" r="3.294"/><circle cx="992.4" cy="602.8" r="3.294"/><circle cx="1133.1" cy="405.0" r="3.294"/><circle cx="1014.4" cy="379.4" r="3.294"/><circle cx="995.5" cy="593.2" r="3.294"/><circle cx="1069.4" cy="494.7" r="3.294"/><circle cx="1028.4" cy="581.6" r="3.294"/><circle cx="1002.6" cy="416.7" r="3.294"/><circle cx="1052.6" cy="597.1" r="3.294"/><circle cx="988.3" cy="489.8" r="3.294"/><circle cx="985.9" cy="388.2" r="3.294"/><circle cx="1075.6" cy="457.4" r="3.294"/><circle cx="969.9" cy="428.0" r="3.294"/><circle cx="1069.5" cy="584.8" r="3.294"/><circle cx="1001.5" cy="561.0" r="3.294"/><circle cx="1028.2" cy="457.7" r="3.294"/><circle cx="996.6" cy="431.4" r="3.294"/><circle cx="999.1" cy="392.4" r="3.294"/><circle cx="1079.9" cy="428.8" r="3.294"/><circle cx="1060.4" cy="561.7" r="3.294"/><circle cx="1003.9" cy="356.4" r="3.294"/><circle cx="989.3" cy="421.0" r="3.294"/><circle cx="1080.0" cy="433.6" r="3.294"/><circle cx="1033.7" cy="588.1" r="3.294"/><circle cx="977.1" cy="475.0" r="3.294"/><circle cx="1020.9" cy="419.4" r="3.294"/><circle cx="1032.8" cy="541.8" r="3.294"/><circle cx="972.0" cy="366.5" r="3.294"/><circle cx="1005.3" cy="559.3" r="3.294"/><circle cx="1028.0" cy="433.8" r="3.294"/><circle cx="977.2" cy="438.3" r="3.294"/><circle cx="1035.3" cy="400.6" r="3.294"/><circle cx="1045.2" cy="417.3" r="3.294"/><circle cx="975.4" cy="424.7" r="3.294"/><circle cx="1082.6" cy="551.2" r="3.294"/><circle cx="1011.7" cy="473.2" r="3.294"/><circle cx="1078.3" cy="392.8" r="3.294"/><circle cx="1013.8" cy="443.9" r="3.294"/><circle cx="1088.5" cy="608.2" r="3.294"/><circle cx="1006.5" cy="466.9" r="3.294"/><circle cx="955.3" cy="476.0" r="3.294"/><circle cx="1036.8" cy="614.0" r="3.294"/><circle cx="994.3" cy="446.4" r="3.294"/><circle cx="1130.3" cy="380.2" r="3.294"/><circle cx="1045.5" cy="438.0" r="3.294"/><circle cx="996.0" cy="390.8" r="3.294"/><circle cx="1130.9" cy="596.1" r="3.294"/><circle cx="984.1" cy="601.9" r="3.294"/><circle cx="1013.8" cy="531.4" r="3.294"/><circle cx="1036.0" cy="566.8" r="3.294"/><circle cx="1116.2" cy="527.4" r="3.294"/><circle cx="1041.3" cy="369.0" r="3.294"/><circle cx="974.0" cy="391.3" r="3.294"/><circle cx="1005.8" cy="481.7" r="3.294"/><circle cx="1112.5" cy="603.3" r="3.294"/><circle cx="1045.6" cy="421.2" r="3.294"/><circle cx="1091.6" cy="563.7" r="3.294"/><circle cx="1013.3" cy="491.8" r="3.294"/><circle cx="1012.0" cy="475.2" r="3.294"/><circle cx="1097.8" cy="457.7" r="3.294"/><circle cx="993.1" cy="535.5" r="3.294"/><circle cx="1006.8" cy="573.4" r="3.294"/><circle cx="1068.7" cy="626.6" r="3.294"/><circle cx="1010.9" cy="427.3" r="3.294"/><circle cx="991.7" cy="590.3" r="3.294"/><circle cx="1020.3" cy="475.2" r="3.294"/><circle cx="1064.5" cy="366.4" r="3.294"/><circle cx="1052.5" cy="387.6" r="3.294"/><circle cx="1034.6" cy="421.1" r="3.294"/><circle cx="1029.3" cy="473.7" r="3.294"/><circle cx="1074.3" cy="399.9" r="3.294"/><circle cx="955.1" cy="605.8" r="3.294"/><circle cx="1062.1" cy="569.1" r="3.294"/><circle cx="1017.8" cy="529.7" r="3.294"/><circle cx="996.9" cy="513.3" r="3.294"/><circle cx="1000.0" cy="563.1" r="3.294"/><circle cx="1013.9" cy="526.1" r="3.294"/><circle cx="1018.8" cy="583.7" r="3.294"/><circle cx="1025.6" cy="559.0" r="3.294"/><circle cx="970.9" cy="472.3" r="3.294"/><circle cx="1028.0" cy="482.1" r="3.294"/><circle cx="1007.1" cy="534.7" r="3.294"/><circle cx="1084.7" cy="447.6" r="3.294"/><circle cx="1039.5" cy="459.3" r="3.294"/><circle cx="1022.0" cy="355.0" r="3.294"/><circle cx="1048.6" cy="428.9" r="3.294"/><circle cx="1134.5" cy="566.1" r="3.294"/><circle cx="1020.9" cy="412.8" r="3.294"/><circle cx="1093.2" cy="429.1" r="3.294"/><circle cx="1060.3" cy="515.7" r="3.294"/><circle cx="1034.2" cy="426.5" r="3.294"/><circle cx="1028.2" cy="422.0" r="3.294"/><circle cx="1057.2" cy="500.1" r="3.294"/><circle cx="1035.5" cy="539.0" r="3.294"/><circle cx="1122.2" cy="385.3" r="3.294"/><circle cx="1012.0" cy="469.8" r="3.294"/><circle cx="1105.5" cy="605.6" r="3.294"/><circle cx="1008.9" cy="491.5" r="3.294"/><circle cx="979.6" cy="631.1" r="3.294"/><circle cx="991.4" cy="422.9" r="3.294"/><circle cx="1054.2" cy="581.6" r="3.294"/><circle cx="1011.6" cy="360.8" r="3.294"/><circle cx="954.5" cy="410.0" r="3.294"/><circle cx="980.1" cy="561.5" r="3.294"/><circle cx="982.8" cy="477.3" r="3.294"/><circle cx="1035.5" cy="366.5" r="3.294"/><circle cx="1018.5" cy="578.1" r="3.294"/><circle cx="996.8" cy="486.5" r="3.294"/><circle cx="1104.5" cy="437.9" r="3.294"/><circle cx="1027.5" cy="575.4" r="3.294"/><circle cx="1064.8" cy="415.3" r="3.294"/><circle cx="1011.7" cy="499.5" r="3.294"/><circle cx="1006.2" cy="367.3" r="3.294"/><circle cx="1034.6" cy="403.2" r="3.294"/><circle cx="1132.6" cy="397.8" r="3.294"/><circle cx="1031.7" cy="463.5" r="3.294"/><circle cx="992.4" cy="503.2" r="3.294"/><circle cx="1024.7" cy="355.6" r="3.294"/><circle cx="1050.3" cy="391.7" r="3.294"/><circle cx="1010.8" cy="550.4" r="3.294"/><circle cx="1084.7" cy="595.4" r="3.294"/><circle cx="1052.5" cy="478.3" r="3.294"/><circle cx="1020.6" cy="407.1" r="3.294"/><circle cx="1006.9" cy="567.8" r="3.294"/><circle cx="1097.5" cy="403.7" r="3.294"/><circle cx="1045.4" cy="514.3" r="3.294"/><circle cx="1040.1" cy="395.0" r="3.294"/><circle cx="971.2" cy="596.0" r="3.294"/><circle cx="1055.0" cy="563.8" r="3.294"/><circle cx="1066.7" cy="509.9" r="3.294"/><circle cx="977.2" cy="593.1" r="3.294"/><circle cx="1084.0" cy="425.1" r="3.294"/><circle cx="1017.6" cy="368.7" r="3.294"/><circle cx="963.9" cy="587.4" r="3.294"/><circle cx="974.8" cy="525.5" r="3.294"/><circle cx="1015.5" cy="574.1" r="3.294"/><circle cx="1064.9" cy="619.2" r="3.294"/><circle cx="1130.9" cy="597.2" r="3.294"/><circle cx="1070.7" cy="478.5" r="3.294"/><circle cx="992.6" cy="480.6" r="3.294"/><circle cx="1023.4" cy="401.3" r="3.294"/><circle cx="1010.6" cy="404.4" r="3.294"/><circle cx="1020.9" cy="543.5" r="3.294"/><circle cx="998.8" cy="492.7" r="3.294"/><circle cx="1022.6" cy="384.1" r="3.294"/><circle cx="981.0" cy="485.7" r="3.294"/><circle cx="981.8" cy="453.8" r="3.294"/><circle cx="976.5" cy="404.2" r="3.294"/><circle cx="1110.7" cy="596.6" r="3.294"/><circle cx="1094.9" cy="596.0" r="3.294"/><circle cx="971.1" cy="499.0" r="3.294"/><circle cx="1093.6" cy="414.3" r="3.294"/><circle cx="1083.2" cy="469.5" r="3.294"/><circle cx="1040.0" cy="541.4" r="3.294"/><circle cx="1037.2" cy="409.6" r="3.294"/><circle cx="1097.0" cy="393.2" r="3.294"/><circle cx="1030.8" cy="485.8" r="3.294"/><circle cx="1029.4" cy="366.1" r="3.294"/><circle cx="993.0" cy="500.2" r="3.294"/><circle cx="1021.1" cy="360.9" r="3.294"/><circle cx="1027.9" cy="386.6" r="3.294"/><circle cx="1033.7" cy="390.2" r="3.294"/><circle cx="1112.8" cy="492.7" r="3.294"/><circle cx="989.6" cy="538.3" r="3.294"/><circle cx="1018.4" cy="363.3" r="3.294"/><circle cx="1007.2" cy="467.5" r="3.294"/><circle cx="1014.7" cy="361.2" r="3.294"/><circle cx="1127.4" cy="403.6" r="3.294"/><circle cx="1088.4" cy="411.5" r="3.294"/><circle cx="966.0" cy="617.7" r="3.294"/><circle cx="987.0" cy="470.5" r="3.294"/><circle cx="998.0" cy="388.8" r="3.294"/><circle cx="1005.9" cy="469.9" r="3.294"/><circle cx="1006.7" cy="478.2" r="3.294"/><circle cx="1004.4" cy="393.7" r="3.294"/><circle cx="987.1" cy="441.7" r="3.294"/><circle cx="1014.5" cy="394.4" r="3.294"/><circle cx="1061.1" cy="580.7" r="3.294"/><circle cx="1026.8" cy="383.5" r="3.294"/><circle cx="1055.0" cy="465.1" r="3.294"/><circle cx="1059.6" cy="376.0" r="3.294"/><circle cx="1083.8" cy="447.2" r="3.294"/><circle cx="987.5" cy="390.8" r="3.294"/><circle cx="1135.4" cy="508.9" r="3.294"/><circle cx="1015.9" cy="364.2" r="3.294"/><circle cx="980.0" cy="363.3" r="3.294"/><circle cx="1051.4" cy="377.5" r="3.294"/><circle cx="1016.0" cy="465.8" r="3.294"/><circle cx="1057.4" cy="393.8" r="3.294"/><circle cx="1101.7" cy="381.3" r="3.294"/><circle cx="971.8" cy="431.9" r="3.294"/><circle cx="996.4" cy="397.2" r="3.294"/><circle cx="1002.7" cy="398.1" r="3.294"/><circle cx="1029.1" cy="432.3" r="3.294"/><circle cx="1044.3" cy="470.3" r="3.294"/><circle cx="1088.5" cy="363.1" r="3.294"/><circle cx="1002.4" cy="473.9" r="3.294"/><circle cx="1025.9" cy="569.8" r="3.294"/><circle cx="1010.0" cy="440.1" r="3.294"/><circle cx="973.3" cy="543.7" r="3.294"/><circle cx="1128.5" cy="581.7" r="3.294"/><circle cx="1032.8" cy="420.3" r="3.294"/><circle cx="1018.3" cy="471.6" r="3.294"/><circle cx="986.5" cy="544.4" r="3.294"/><circle cx="999.8" cy="390.8" r="3.294"/><circle cx="1064.6" cy="454.2" r="3.294"/><circle cx="1064.0" cy="436.7" r="3.294"/><circle cx="994.7" cy="361.3" r="3.294"/><circle cx="998.0" cy="614.8" r="3.294"/><circle cx="1076.2" cy="502.3" r="3.294"/><circle cx="1041.5" cy="458.7" r="3.294"/><circle cx="1035.2" cy="536.7" r="3.294"/><circle cx="1080.8" cy="359.6" r="3.294"/><circle cx="1051.3" cy="580.7" r="3.294"/><circle cx="963.0" cy="519.8" r="3.294"/><circle cx="1042.4" cy="412.2" r="3.294"/><circle cx="1059.0" cy="451.9" r="3.294"/><circle cx="1022.7" cy="496.6" r="3.294"/><circle cx="1029.4" cy="497.1" r="3.294"/><circle cx="977.7" cy="572.4" r="3.294"/><circle cx="1007.7" cy="402.0" r="3.294"/><circle cx="1043.4" cy="475.9" r="3.294"/><circle cx="1027.4" cy="625.5" r="3.294"/><circle cx="1029.8" cy="400.9" r="3.294"/><circle cx="1119.2" cy="463.9" r="3.294"/><circle cx="1033.3" cy="413.5" r="3.294"/><circle cx="971.8" cy="574.0" r="3.294"/><circle cx="1052.9" cy="391.2" r="3.294"/><circle cx="1085.4" cy="569.3" r="3.294"/><circle cx="1082.8" cy="382.6" r="3.294"/><circle cx="960.5" cy="623.8" r="3.294"/><circle cx="991.9" cy="480.6" r="3.294"/><circle cx="1036.0" cy="506.9" r="3.294"/><circle cx="1023.2" cy="616.5" r="3.294"/><circle cx="1119.5" cy="352.8" r="3.294"/><circle cx="1109.5" cy="463.5" r="3.294"/><circle cx="1081.7" cy="574.5" r="3.294"/><circle cx="1034.8" cy="468.5" r="3.294"/><circle cx="1006.8" cy="469.3" r="3.294"/><circle cx="1129.8" cy="412.6" r="3.294"/><circle cx="1064.9" cy="381.7" r="3.294"/><circle cx="1008.2" cy="552.8" r="3.294"/><circle cx="1017.9" cy="484.1" r="3.294"/><circle cx="1131.6" cy="622.5" r="3.294"/><circle cx="1032.5" cy="492.8" r="3.294"/><circle cx="1061.2" cy="554.0" r="3.294"/><circle cx="1082.1" cy="583.4" r="3.294"/><circle cx="1073.4" cy="393.4" r="3.294"/><circle cx="1116.6" cy="522.9" r="3.294"/><circle cx="1034.7" cy="428.2" r="3.294"/><circle cx="988.4" cy="507.4" r="3.294"/><circle cx="1000.0" cy="470.7" r="3.294"/><circle cx="1000.3" cy="614.8" r="3.294"/><circle cx="1034.0" cy="567.6" r="3.294"/><circle cx="1027.4" cy="402.8" r="3.294"/><circle cx="1035.6" cy="519.1" r="3.294"/><circle cx="990.4" cy="356.2" r="3.294"/><circle cx="1066.6" cy="532.7" r="3.294"/><circle cx="964.0" cy="254.4" r="3.294"/><circle cx="969.4" cy="249.0" r="3.294"/><circle cx="953.0" cy="263.8" r="3.294"/><circle cx="975.6" cy="279.3" r="3.294"/><circle cx="989.3" cy="254.4" r="3.294"/><circle cx="991.3" cy="259.3" r="3.294"/><circle cx="982.9" cy="263.2" r="3.294"/><circle cx="979.7" cy="268.3" r="3.294"/><circle cx="990.0" cy="269.6" r="3.294"/><circle cx="986.1" cy="278.4" r="3.294"/><circle cx="991.3" cy="278.0" r="3.294"/><circle cx="986.8" cy="295.4" r="3.294"/><circle cx="988.7" cy="294.1" r="3.294"/><circle cx="1000.9" cy="258.7" r="3.294"/><circle cx="1003.5" cy="262.5" r="3.294"/><circle cx="999.6" cy="276.7" r="3.294"/><circle cx="1002.9" cy="283.8" r="3.294"/><circle cx="1005.4" cy="288.3" r="3.294"/><circle cx="1000.9" cy="292.8" r="3.294"/><circle cx="1013.6" cy="270.2" r="3.294"/><circle cx="1011.2" cy="279.3" r="3.294"/><circle cx="1020.0" cy="281.2" r="3.294"/><circle cx="1022.8" cy="293.4" r="3.294"/><circle cx="1023.1" cy="293.8" r="3.294"/><circle cx="1023.5" cy="272.8" r="3.294"/><circle cx="1032.5" cy="272.8" r="3.294"/><circle cx="1042.1" cy="272.2" r="3.294"/><circle cx="1038.5" cy="258.3" r="3.294"/><circle cx="1042.1" cy="250.9" r="3.294"/><circle cx="1038.9" cy="287.6" r="3.294"/><circle cx="1035.7" cy="291.5" r="3.294"/><circle cx="1033.1" cy="299.9" r="3.294"/><circle cx="960.0" cy="309.5" r="3.294"/><circle cx="970.3" cy="325.9" r="3.294"/><circle cx="976.2" cy="300.1" r="3.294"/><circle cx="975.8" cy="335.5" r="3.294"/><circle cx="961.7" cy="340.2" r="3.294"/><circle cx="984.8" cy="308.9" r="3.294"/><circle cx="988.7" cy="315.3" r="3.294"/><circle cx="988.1" cy="321.1" r="3.294"/><circle cx="988.1" cy="329.5" r="3.294"/><circle cx="993.8" cy="332.1" r="3.294"/><circle cx="995.8" cy="308.9" r="3.294"/><circle cx="983.5" cy="337.8" r="3.294"/><circle cx="988.7" cy="339.1" r="3.294"/><circle cx="980.3" cy="343.6" r="3.294"/><circle cx="986.8" cy="344.3" r="3.294"/><circle cx="1001.6" cy="301.8" r="3.294"/><circle cx="1003.5" cy="307.6" r="3.294"/><circle cx="999.0" cy="313.0" r="3.294"/><circle cx="1005.4" cy="319.8" r="3.294"/><circle cx="1002.2" cy="326.3" r="3.294"/><circle cx="1013.2" cy="321.1" r="3.294"/><circle cx="1013.2" cy="325.0" r="3.294"/><circle cx="1004.8" cy="332.7" r="3.294"/><circle cx="1006.1" cy="337.8" r="3.294"/><circle cx="1014.5" cy="337.8" r="3.294"/><circle cx="1000.9" cy="344.9" r="3.294"/><circle cx="1008.0" cy="343.6" r="3.294"/><circle cx="1013.8" cy="345.6" r="3.294"/><circle cx="1020.6" cy="308.5" r="3.294"/><circle cx="1019.6" cy="315.7" r="3.294"/><circle cx="1023.5" cy="316.0" r="3.294"/><circle cx="1028.0" cy="320.5" r="3.294"/><circle cx="1035.7" cy="308.9" r="3.294"/><circle cx="1035.7" cy="314.7" r="3.294"/><circle cx="1042.8" cy="308.5" r="3.294"/><circle cx="1037.0" cy="322.4" r="3.294"/><circle cx="1039.6" cy="326.9" r="3.294"/><circle cx="1026.0" cy="337.8" r="3.294"/><circle cx="1031.8" cy="337.8" r="3.294"/><circle cx="1034.4" cy="341.7" r="3.294"/><circle cx="1040.8" cy="343.6" r="3.294"/><circle cx="1022.2" cy="344.3" r="3.294"/><circle cx="1033.1" cy="343.0" r="3.294"/><circle cx="1000.7" cy="344.5" r="3.294"/><circle cx="1014.2" cy="338.2" r="3.294"/><circle cx="1005.1" cy="321.4" r="3.294"/><circle cx="1012.8" cy="323.0" r="3.294"/><circle cx="989.0" cy="339.5" r="3.294"/><circle cx="985.7" cy="296.9" r="3.294"/><circle cx="987.0" cy="295.1" r="3.294"/><circle cx="1004.2" cy="331.4" r="3.294"/><circle cx="1005.4" cy="334.6" r="3.294"/><circle cx="1024.1" cy="319.2" r="3.294"/><circle cx="1035.4" cy="339.1" r="3.294"/><circle cx="1031.8" cy="339.8" r="3.294"/><circle cx="1012.5" cy="326.3" r="3.294"/><circle cx="1013.8" cy="323.7" r="3.294"/><circle cx="1080.8" cy="327.8" r="3.294"/><circle cx="1082.7" cy="331.4" r="3.294"/><circle cx="1084.9" cy="252.9" r="3.294"/><circle cx="1081.3" cy="258.0" r="3.294"/><circle cx="1090.1" cy="260.3" r="3.294"/><circle cx="1101.3" cy="255.4" r="3.294"/><circle cx="1110.6" cy="256.5" r="3.294"/><circle cx="1125.1" cy="253.5" r="3.294"/><circle cx="1058.8" cy="256.1" r="3.294"/><circle cx="1057.5" cy="261.9" r="3.294"/><circle cx="1058.2" cy="267.0" r="3.294"/><circle cx="1059.4" cy="272.8" r="3.294"/><circle cx="1044.6" cy="272.2" r="3.294"/><circle cx="1128.3" cy="269.6" r="3.294"/><circle cx="1127.6" cy="272.2" r="3.294"/><circle cx="1121.8" cy="273.2" r="3.294"/><circle cx="1131.5" cy="279.9" r="3.294"/><circle cx="1122.5" cy="285.0" r="3.294"/><circle cx="1110.3" cy="284.8" r="3.294"/><circle cx="1083.0" cy="276.7" r="3.294"/><circle cx="1069.3" cy="280.5" r="3.294"/><circle cx="1056.9" cy="285.0" r="3.294"/><circle cx="1061.4" cy="288.9" r="3.294"/><circle cx="1067.2" cy="292.1" r="3.294"/><circle cx="1075.9" cy="292.5" r="3.294"/><circle cx="1087.1" cy="290.2" r="3.294"/><circle cx="1056.2" cy="295.6" r="3.294"/><circle cx="1048.5" cy="301.1" r="3.294"/><circle cx="1070.4" cy="296.6" r="3.294"/><circle cx="1070.4" cy="302.4" r="3.294"/><circle cx="1065.2" cy="304.6" r="3.294"/><circle cx="1073.6" cy="307.2" r="3.294"/><circle cx="1079.4" cy="303.7" r="3.294"/><circle cx="1067.4" cy="312.7" r="3.294"/><circle cx="1075.9" cy="312.3" r="3.294"/><circle cx="1091.0" cy="301.1" r="3.294"/><circle cx="1105.8" cy="302.8" r="3.294"/><circle cx="1096.8" cy="306.9" r="3.294"/><circle cx="1094.2" cy="309.5" r="3.294"/><circle cx="1089.7" cy="314.0" r="3.294"/><circle cx="1107.0" cy="315.6" r="3.294"/><circle cx="1121.2" cy="314.0" r="3.294"/><circle cx="1119.9" cy="319.1" r="3.294"/><circle cx="1044.0" cy="308.8" r="3.294"/><circle cx="1129.6" cy="322.3" r="3.294"/><circle cx="1132.8" cy="324.9" r="3.294"/><circle cx="1114.1" cy="330.7" r="3.294"/><circle cx="1122.5" cy="331.3" r="3.294"/><circle cx="1130.2" cy="338.4" r="3.294"/><circle cx="1118.0" cy="344.2" r="3.294"/><circle cx="1110.9" cy="339.7" r="3.294"/><circle cx="1051.1" cy="326.8" r="3.294"/><circle cx="1055.6" cy="330.1" r="3.294"/><circle cx="1062.3" cy="328.8" r="3.294"/><circle cx="1074.5" cy="324.3" r="3.294"/><circle cx="1072.6" cy="328.5" r="3.294"/><circle cx="1083.2" cy="329.4" r="3.294"/><circle cx="1083.9" cy="331.3" r="3.294"/><circle cx="1091.0" cy="333.9" r="3.294"/><circle cx="1095.5" cy="336.5" r="3.294"/><circle cx="1081.3" cy="337.5" r="3.294"/><circle cx="1061.4" cy="337.8" r="3.294"/><circle cx="1067.8" cy="340.7" r="3.294"/><circle cx="1062.0" cy="342.7" r="3.294"/><circle cx="1050.7" cy="339.7" r="3.294"/><circle cx="1049.8" cy="345.5" r="3.294"/><circle cx="992.6" cy="644.6" r="3.294"/><circle cx="986.2" cy="644.6" r="3.294"/><circle cx="1066.7" cy="644.7" r="3.294"/><circle cx="958.2" cy="644.5" r="3.294"/><circle cx="1022.5" cy="644.5" r="3.294"/><circle cx="1041.4" cy="644.6" r="3.294"/><circle cx="979.7" cy="644.5" r="3.294"/><circle cx="951.9" cy="644.6" r="3.294"/><circle cx="990.5" cy="644.7" r="3.294"/><circle cx="1033.0" cy="644.6" r="3.294"/><circle cx="1017.2" cy="644.5" r="3.294"/><circle cx="957.9" cy="644.5" r="3.294"/><circle cx="1005.7" cy="644.9" r="3.294"/><circle cx="1040.0" cy="644.7" r="3.294"/><circle cx="1006.9" cy="644.4" r="3.294"/><circle cx="1026.1" cy="644.5" r="3.294"/><circle cx="1129.8" cy="644.9" r="3.294"/><circle cx="1044.8" cy="644.8" r="3.294"/><circle cx="996.5" cy="644.6" r="3.294"/><circle cx="979.9" cy="644.8" r="3.294"/><circle cx="1000.5" cy="644.4" r="3.294"/><circle cx="1018.8" cy="644.6" r="3.294"/><circle cx="1089.2" cy="644.7" r="3.294"/><circle cx="1055.7" cy="644.3" r="3.294"/><circle cx="990.7" cy="644.5" r="3.294"/><circle cx="1103.6" cy="644.7" r="3.294"/><circle cx="1016.5" cy="644.8" r="3.294"/><circle cx="1037.0" cy="644.5" r="3.294"/><circle cx="959.0" cy="644.6" r="3.294"/><circle cx="959.8" cy="644.8" r="3.294"/><circle cx="976.6" cy="644.5" r="3.294"/><circle cx="1090.3" cy="644.4" r="3.294"/><circle cx="1037.6" cy="644.6" r="3.294"/><circle cx="1085.6" cy="644.5" r="3.294"/><circle cx="1031.3" cy="644.8" r="3.294"/><circle cx="1001.1" cy="644.6" r="3.294"/><circle cx="1012.1" cy="644.5" r="3.294"/><circle cx="1031.0" cy="645.0" r="3.294"/><circle cx="1081.4" cy="644.5" r="3.294"/><circle cx="999.2" cy="644.7" r="3.294"/><circle cx="1100.2" cy="644.7" r="3.294"/><circle cx="1024.4" cy="644.7" r="3.294"/><circle cx="1072.5" cy="644.6" r="3.294"/><circle cx="1016.6" cy="644.7" r="3.294"/><circle cx="1043.7" cy="644.6" r="3.294"/><circle cx="1004.1" cy="644.4" r="3.294"/><circle cx="1018.4" cy="644.6" r="3.294"/><circle cx="980.1" cy="644.6" r="3.294"/><circle cx="967.2" cy="644.6" r="3.294"/><circle cx="945.0" cy="644.6" r="3.294"/><circle cx="1037.3" cy="644.5" r="3.294"/><circle cx="1020.3" cy="644.8" r="3.294"/><circle cx="1091.2" cy="644.8" r="3.294"/><circle cx="1064.8" cy="644.3" r="3.294"/><circle cx="1005.8" cy="644.6" r="3.294"/><circle cx="1141.5" cy="644.5" r="3.294"/><circle cx="1033.0" cy="644.2" r="3.294"/><circle cx="1055.3" cy="644.7" r="3.294"/><circle cx="1000.0" cy="644.5" r="3.294"/><circle cx="981.5" cy="644.5" r="3.294"/><circle cx="978.1" cy="644.5" r="3.294"/><circle cx="976.7" cy="644.8" r="3.294"/><circle cx="1021.9" cy="644.8" r="3.294"/><circle cx="957.6" cy="644.6" r="3.294"/><circle cx="928.4" cy="644.7" r="3.294"/><circle cx="1073.9" cy="644.6" r="3.294"/><circle cx="958.1" cy="644.6" r="3.294"/><circle cx="997.3" cy="644.5" r="3.294"/><circle cx="1016.2" cy="644.6" r="3.294"/><circle cx="1024.4" cy="644.5" r="3.294"/><circle cx="1015.7" cy="644.7" r="3.294"/><circle cx="1114.6" cy="644.7" r="3.294"/><circle cx="1060.0" cy="644.6" r="3.294"/><circle cx="1025.0" cy="644.8" r="3.294"/><circle cx="1034.0" cy="645.0" r="3.294"/><circle cx="1013.7" cy="644.3" r="3.294"/><circle cx="1135.6" cy="644.6" r="3.294"/><circle cx="986.0" cy="644.5" r="3.294"/><circle cx="1048.4" cy="644.5" r="3.294"/><circle cx="1012.5" cy="644.4" r="3.294"/><circle cx="951.4" cy="644.6" r="3.294"/><circle cx="989.9" cy="644.6" r="3.294"/><circle cx="1111.1" cy="644.5" r="3.294"/><circle cx="1049.8" cy="644.6" r="3.294"/><circle cx="935.4" cy="644.5" r="3.294"/><circle cx="995.0" cy="644.2" r="3.294"/><circle cx="935.8" cy="644.8" r="3.294"/><circle cx="1064.4" cy="644.6" r="3.294"/><circle cx="955.7" cy="644.5" r="3.294"/><circle cx="946.0" cy="644.6" r="3.294"/><circle cx="1138.5" cy="644.5" r="3.294"/><circle cx="995.4" cy="644.3" r="3.294"/><circle cx="982.3" cy="644.7" r="3.294"/><circle cx="950.4" cy="644.3" r="3.294"/><circle cx="1006.8" cy="644.6" r="3.294"/><circle cx="1000.9" cy="644.6" r="3.294"/><circle cx="1016.7" cy="644.8" r="3.294"/><circle cx="931.7" cy="644.8" r="3.294"/><circle cx="958.6" cy="644.6" r="3.294"/><circle cx="974.7" cy="644.5" r="3.294"/><circle cx="997.9" cy="644.5" r="3.294"/><circle cx="987.7" cy="644.8" r="3.294"/><circle cx="1023.7" cy="644.9" r="3.294"/><circle cx="994.0" cy="644.7" r="3.294"/><circle cx="1097.2" cy="644.5" r="3.294"/><circle cx="1116.5" cy="644.8" r="3.294"/><circle cx="944.2" cy="644.5" r="3.294"/><circle cx="979.4" cy="644.5" r="3.294"/><circle cx="1013.4" cy="644.6" r="3.294"/><circle cx="1051.9" cy="644.7" r="3.294"/><circle cx="941.9" cy="644.6" r="3.294"/><circle cx="977.3" cy="644.7" r="3.294"/><circle cx="1016.0" cy="644.8" r="3.294"/><circle cx="1046.3" cy="644.7" r="3.294"/><circle cx="1090.8" cy="644.3" r="3.294"/><circle cx="1085.2" cy="644.3" r="3.294"/><circle cx="1072.8" cy="644.6" r="3.294"/><circle cx="952.6" cy="644.6" r="3.294"/><circle cx="1138.5" cy="644.9" r="3.294"/><circle cx="1027.6" cy="644.6" r="3.294"/><circle cx="955.6" cy="644.6" r="3.294"/><circle cx="990.3" cy="644.7" r="3.294"/><circle cx="1022.1" cy="644.8" r="3.294"/><circle cx="996.2" cy="644.6" r="3.294"/><circle cx="1000.5" cy="644.7" r="3.294"/><circle cx="1063.4" cy="644.4" r="3.294"/><circle cx="1067.8" cy="644.5" r="3.294"/><circle cx="1019.7" cy="644.8" r="3.294"/><circle cx="1064.1" cy="644.4" r="3.294"/><circle cx="1005.7" cy="644.7" r="3.294"/><circle cx="1141.9" cy="644.7" r="3.294"/><circle cx="1022.2" cy="644.7" r="3.294"/><circle cx="1134.2" cy="644.7" r="3.294"/><circle cx="951.0" cy="644.7" r="3.294"/><circle cx="1098.3" cy="644.3" r="3.294"/><circle cx="1012.1" cy="644.4" r="3.294"/><circle cx="1045.9" cy="644.5" r="3.294"/><circle cx="973.3" cy="644.7" r="3.294"/><circle cx="1011.1" cy="644.4" r="3.294"/><circle cx="988.6" cy="644.5" r="3.294"/><circle cx="963.1" cy="644.5" r="3.294"/><circle cx="939.4" cy="644.8" r="3.294"/><circle cx="1097.4" cy="644.4" r="3.294"/><circle cx="1036.2" cy="644.4" r="3.294"/><circle cx="976.0" cy="644.7" r="3.294"/><circle cx="986.3" cy="644.3" r="3.294"/><circle cx="1017.8" cy="644.6" r="3.294"/><circle cx="1062.4" cy="644.5" r="3.294"/><circle cx="963.7" cy="644.4" r="3.294"/><circle cx="1139.2" cy="644.5" r="3.294"/><circle cx="1115.8" cy="644.4" r="3.294"/><circle cx="981.9" cy="644.6" r="3.294"/><circle cx="1033.6" cy="644.7" r="3.294"/><circle cx="1007.0" cy="644.8" r="3.294"/><circle cx="1037.4" cy="644.6" r="3.294"/><circle cx="967.3" cy="644.6" r="3.294"/><circle cx="1013.8" cy="644.5" r="3.294"/><circle cx="1028.7" cy="644.6" r="3.294"/><circle cx="1028.0" cy="644.8" r="3.294"/><circle cx="1039.6" cy="644.3" r="3.294"/><circle cx="1100.3" cy="644.7" r="3.294"/><circle cx="989.8" cy="644.5" r="3.294"/><circle cx="980.8" cy="644.6" r="3.294"/><circle cx="1003.3" cy="644.6" r="3.294"/><circle cx="1034.1" cy="644.7" r="3.294"/><circle cx="1122.1" cy="644.6" r="3.294"/><circle cx="1041.4" cy="644.5" r="3.294"/><circle cx="1056.1" cy="644.6" r="3.294"/><circle cx="1128.7" cy="644.6" r="3.294"/><circle cx="991.9" cy="644.6" r="3.294"/><circle cx="983.5" cy="644.6" r="3.294"/><circle cx="1007.6" cy="644.7" r="3.294"/><circle cx="982.3" cy="644.6" r="3.294"/><circle cx="1031.2" cy="644.6" r="3.294"/><circle cx="1125.5" cy="644.4" r="3.294"/><circle cx="975.5" cy="644.6" r="3.294"/><circle cx="1009.7" cy="644.3" r="3.294"/><circle cx="1045.9" cy="644.7" r="3.294"/><circle cx="1012.7" cy="644.5" r="3.294"/><circle cx="1105.7" cy="644.8" r="3.294"/><circle cx="1057.7" cy="645.0" r="3.294"/><circle cx="1101.5" cy="644.5" r="3.294"/><circle cx="956.2" cy="644.8" r="3.294"/><circle cx="974.1" cy="644.7" r="3.294"/><circle cx="950.6" cy="644.5" r="3.294"/><circle cx="1065.5" cy="644.5" r="3.294"/><circle cx="1127.6" cy="644.7" r="3.294"/><circle cx="936.3" cy="644.8" r="3.294"/><circle cx="1049.5" cy="644.7" r="3.294"/><circle cx="1037.2" cy="644.4" r="3.294"/><circle cx="1090.4" cy="644.4" r="3.294"/><circle cx="987.8" cy="644.6" r="3.294"/><circle cx="1047.2" cy="644.8" r="3.294"/><circle cx="983.2" cy="644.6" r="3.294"/><circle cx="943.6" cy="644.6" r="3.294"/><circle cx="1051.3" cy="644.8" r="3.294"/><circle cx="949.3" cy="644.6" r="3.294"/><circle cx="1040.8" cy="644.6" r="3.294"/><circle cx="987.3" cy="644.6" r="3.294"/><circle cx="1010.3" cy="644.3" r="3.294"/><circle cx="1099.5" cy="644.7" r="3.294"/><circle cx="988.1" cy="644.7" r="3.294"/><circle cx="1019.9" cy="644.7" r="3.294"/><circle cx="995.4" cy="644.4" r="3.294"/><circle cx="974.4" cy="644.5" r="3.294"/><circle cx="1013.3" cy="644.7" r="3.294"/><circle cx="979.5" cy="644.6" r="3.294"/><circle cx="1071.0" cy="644.8" r="3.294"/><circle cx="1028.7" cy="644.5" r="3.294"/><circle cx="983.8" cy="644.6" r="3.294"/><circle cx="1137.7" cy="644.5" r="3.294"/><circle cx="1007.0" cy="644.6" r="3.294"/><circle cx="1045.5" cy="644.5" r="3.294"/><circle cx="1061.4" cy="644.7" r="3.294"/><circle cx="989.6" cy="644.8" r="3.294"/><circle cx="932.4" cy="644.7" r="3.294"/><circle cx="1091.5" cy="644.3" r="3.294"/><circle cx="1125.9" cy="644.7" r="3.294"/><circle cx="979.2" cy="644.7" r="3.294"/><circle cx="976.8" cy="644.4" r="3.294"/><circle cx="1005.5" cy="644.5" r="3.294"/><circle cx="1028.2" cy="644.6" r="3.294"/><circle cx="1153.3" cy="644.7" r="3.294"/><circle cx="1124.5" cy="644.5" r="3.294"/><circle cx="1145.2" cy="644.4" r="3.294"/><circle cx="989.5" cy="644.6" r="3.294"/><circle cx="1030.5" cy="644.6" r="3.294"/><circle cx="997.7" cy="645.0" r="3.294"/><circle cx="994.2" cy="644.4" r="3.294"/><circle cx="952.4" cy="645.0" r="3.294"/><circle cx="970.3" cy="644.9" r="3.294"/><circle cx="998.0" cy="644.6" r="3.294"/><circle cx="955.0" cy="644.8" r="3.294"/><circle cx="980.9" cy="644.6" r="3.294"/><circle cx="943.9" cy="644.7" r="3.294"/><circle cx="1032.9" cy="644.5" r="3.294"/><circle cx="1015.2" cy="644.6" r="3.294"/><circle cx="982.4" cy="644.4" r="3.294"/><circle cx="1011.2" cy="644.4" r="3.294"/><circle cx="998.5" cy="644.6" r="3.294"/><circle cx="1045.3" cy="644.5" r="3.294"/><circle cx="1106.8" cy="644.7" r="3.294"/><circle cx="996.9" cy="644.8" r="3.294"/><circle cx="1034.4" cy="644.6" r="3.294"/><circle cx="975.2" cy="644.6" r="3.294"/><circle cx="1102.8" cy="644.6" r="3.294"/><circle cx="1034.7" cy="644.3" r="3.294"/><circle cx="977.3" cy="644.6" r="3.294"/><circle cx="987.6" cy="644.6" r="3.294"/><circle cx="970.3" cy="644.6" r="3.294"/><circle cx="977.6" cy="644.4" r="3.294"/><circle cx="983.0" cy="644.3" r="3.294"/><circle cx="1074.3" cy="644.6" r="3.294"/><circle cx="1018.4" cy="644.6" r="3.294"/><circle cx="991.2" cy="644.8" r="3.294"/><circle cx="1005.3" cy="644.8" r="3.294"/><circle cx="993.2" cy="644.8" r="3.294"/><circle cx="1054.7" cy="644.7" r="3.294"/><circle cx="952.4" cy="644.8" r="3.294"/><circle cx="983.1" cy="644.6" r="3.294"/><circle cx="991.0" cy="644.7" r="3.294"/><circle cx="978.3" cy="644.7" r="3.294"/><circle cx="1051.3" cy="645.0" r="3.294"/><circle cx="969.8" cy="644.6" r="3.294"/><circle cx="993.9" cy="644.4" r="3.294"/><circle cx="953.5" cy="644.8" r="3.294"/><circle cx="1049.9" cy="644.5" r="3.294"/><circle cx="1002.9" cy="644.6" r="3.294"/><circle cx="1024.1" cy="644.6" r="3.294"/><circle cx="971.0" cy="644.5" r="3.294"/><circle cx="940.7" cy="644.8" r="3.294"/><circle cx="990.5" cy="644.7" r="3.294"/><circle cx="1058.6" cy="644.5" r="3.294"/><circle cx="1065.6" cy="644.6" r="3.294"/><circle cx="1005.4" cy="644.5" r="3.294"/><circle cx="1084.1" cy="644.7" r="3.294"/><circle cx="946.2" cy="644.5" r="3.294"/><circle cx="1015.0" cy="644.5" r="3.294"/><circle cx="985.0" cy="644.5" r="3.294"/><circle cx="1003.0" cy="644.5" r="3.294"/><circle cx="984.2" cy="644.6" r="3.294"/><circle cx="1094.5" cy="644.5" r="3.294"/><circle cx="993.1" cy="644.6" r="3.294"/><circle cx="1124.0" cy="644.7" r="3.294"/><circle cx="963.0" cy="645.0" r="3.294"/><circle cx="996.5" cy="644.7" r="3.294"/><circle cx="1006.0" cy="644.2" r="3.294"/><circle cx="1043.4" cy="644.5" r="3.294"/><circle cx="1007.7" cy="644.5" r="3.294"/><circle cx="1020.8" cy="644.6" r="3.294"/><circle cx="954.0" cy="644.8" r="3.294"/><circle cx="988.8" cy="644.7" r="3.294"/><circle cx="1045.4" cy="644.3" r="3.294"/><circle cx="956.3" cy="644.6" r="3.294"/><circle cx="1009.0" cy="644.6" r="3.294"/><circle cx="992.2" cy="644.7" r="3.294"/><circle cx="977.3" cy="644.8" r="3.294"/><circle cx="967.6" cy="644.4" r="3.294"/><circle cx="1065.9" cy="644.8" r="3.294"/><circle cx="1041.7" cy="644.4" r="3.294"/><circle cx="1005.5" cy="644.6" r="3.294"/><circle cx="1003.2" cy="644.7" r="3.294"/><circle cx="1046.4" cy="644.9" r="3.294"/><circle cx="1027.0" cy="644.5" r="3.294"/><circle cx="1113.2" cy="644.3" r="3.294"/><circle cx="1113.4" cy="644.7" r="3.294"/><circle cx="1020.4" cy="644.5" r="3.294"/><circle cx="1040.4" cy="644.8" r="3.294"/><circle cx="1020.5" cy="644.5" r="3.294"/><circle cx="985.8" cy="644.5" r="3.294"/><circle cx="1003.0" cy="644.8" r="3.294"/><circle cx="1048.2" cy="644.6" r="3.294"/><circle cx="1017.0" cy="644.8" r="3.294"/><circle cx="1029.6" cy="644.4" r="3.294"/><circle cx="1013.2" cy="644.8" r="3.294"/><circle cx="1122.1" cy="644.5" r="3.294"/><circle cx="1055.0" cy="644.7" r="3.294"/><circle cx="964.0" cy="644.4" r="3.294"/><circle cx="1069.0" cy="644.4" r="3.294"/><circle cx="1106.1" cy="644.6" r="3.294"/><circle cx="927.0" cy="644.6" r="3.294"/><circle cx="929.5" cy="644.6" r="3.294"/><circle cx="953.9" cy="637.6" r="3.294"/><circle cx="1002.9" cy="641.2" r="3.294"/><circle cx="930.7" cy="641.2" r="3.294"/><circle cx="1071.6" cy="641.3" r="3.294"/><circle cx="1094.6" cy="642.1" r="3.294"/><circle cx="1010.7" cy="640.6" r="3.294"/><circle cx="986.2" cy="629.6" r="3.294"/><circle cx="976.4" cy="642.8" r="3.294"/><circle cx="959.4" cy="634.4" r="3.294"/><circle cx="1010.3" cy="643.0" r="3.294"/><circle cx="955.7" cy="641.6" r="3.294"/><circle cx="973.5" cy="639.6" r="3.294"/><circle cx="1031.5" cy="640.8" r="3.294"/><circle cx="1066.4" cy="640.3" r="3.294"/><circle cx="1027.2" cy="637.4" r="3.294"/><circle cx="1085.9" cy="641.2" r="3.294"/><circle cx="1057.0" cy="632.7" r="3.294"/><circle cx="1008.2" cy="632.1" r="3.294"/><circle cx="992.8" cy="641.4" r="3.294"/><circle cx="980.9" cy="637.8" r="3.294"/><circle cx="1041.9" cy="640.5" r="3.294"/><circle cx="1018.7" cy="640.5" r="3.294"/><circle cx="1075.2" cy="641.9" r="3.294"/><circle cx="995.2" cy="640.2" r="3.294"/><circle cx="1068.1" cy="638.6" r="3.294"/><circle cx="1045.0" cy="642.5" r="3.294"/><circle cx="1011.5" cy="641.3" r="3.294"/><circle cx="1036.0" cy="619.7" r="3.294"/><circle cx="1041.8" cy="639.4" r="3.294"/><circle cx="942.5" cy="640.4" r="3.294"/><circle cx="1050.6" cy="641.6" r="3.294"/><circle cx="955.6" cy="641.8" r="3.294"/><circle cx="1018.1" cy="631.3" r="3.294"/><circle cx="995.7" cy="639.6" r="3.294"/><circle cx="1047.4" cy="642.3" r="3.294"/><circle cx="975.8" cy="635.1" r="3.294"/><circle cx="1027.1" cy="638.8" r="3.294"/><circle cx="1037.1" cy="641.5" r="3.294"/><circle cx="986.9" cy="630.2" r="3.294"/><circle cx="1011.8" cy="642.1" r="3.294"/><circle cx="1006.6" cy="635.8" r="3.294"/><circle cx="1041.9" cy="641.8" r="3.294"/><circle cx="1062.1" cy="641.1" r="3.294"/><circle cx="1020.9" cy="641.1" r="3.294"/><circle cx="941.4" cy="635.0" r="3.294"/></g><g fill="#4CAF50" fill-opacity=".3" stroke="#4CAF50" stroke-opacity=".3"><circle cx="1077.5" cy="192.5" r="3.294"/><circle cx="1066.1" cy="214.8" r="3.294"/><circle cx="1087.7" cy="218.4" r="3.294"/><circle cx="1057.0" cy="226.9" r="3.294"/><circle cx="1063.9" cy="235.2" r="3.294"/><circle cx="1059.5" cy="238.2" r="3.294"/><circle cx="1060.1" cy="244.0" r="3.294"/><circle cx="1221.2" cy="181.3" r="3.294"/><circle cx="1134.4" cy="205.9" r="3.294"/><circle cx="1137.3" cy="224.3" r="3.294"/><circle cx="1152.3" cy="223.5" r="3.294"/><circle cx="1161.9" cy="235.8" r="3.294"/><circle cx="1107.3" cy="242.1" r="3.294"/><circle cx="1117.3" cy="247.5" r="3.294"/><circle cx="1156.2" cy="245.3" r="3.294"/><circle cx="1181.7" cy="245.9" r="3.294"/><circle cx="1202.5" cy="238.5" r="3.294"/><circle cx="1217.5" cy="236.9" r="3.294"/><circle cx="1224.7" cy="225.1" r="3.294"/><circle cx="1224.9" cy="248.9" r="3.294"/><circle cx="1136.0" cy="251.6" r="3.294"/><circle cx="1137.0" cy="261.2" r="3.294"/><circle cx="1146.9" cy="259.0" r="3.294"/><circle cx="1165.0" cy="258.7" r="3.294"/><circle cx="1168.2" cy="258.3" r="3.294"/><circle cx="1172.1" cy="263.8" r="3.294"/><circle cx="1176.9" cy="267.0" r="3.294"/><circle cx="1181.7" cy="268.1" r="3.294"/><circle cx="1184.7" cy="273.5" r="3.294"/><circle cx="1181.1" cy="277.1" r="3.294"/><circle cx="1188.5" cy="279.3" r="3.294"/><circle cx="1191.4" cy="286.3" r="3.294"/><circle cx="1184.7" cy="251.6" r="3.294"/><circle cx="1183.0" cy="249.0" r="3.294"/><circle cx="1192.3" cy="258.0" r="3.294"/><circle cx="1192.0" cy="266.4" r="3.294"/><circle cx="1200.4" cy="266.8" r="3.294"/><circle cx="1206.4" cy="258.0" r="3.294"/><circle cx="1213.5" cy="266.4" r="3.294"/><circle cx="1203.5" cy="275.8" r="3.294"/><circle cx="1205.5" cy="289.6" r="3.294"/><circle cx="1225.1" cy="250.0" r="3.294"/><circle cx="1224.8" cy="269.6" r="3.294"/><circle cx="1223.9" cy="275.0" r="3.294"/><circle cx="1239.7" cy="266.6" r="3.294"/><circle cx="1243.5" cy="265.5" r="3.294"/><circle cx="1252.5" cy="272.2" r="3.294"/><circle cx="1263.5" cy="273.1" r="3.294"/><circle cx="1259.0" cy="255.1" r="3.294"/><circle cx="1296.7" cy="253.8" r="3.294"/><circle cx="1302.4" cy="267.4" r="3.294"/><circle cx="1317.6" cy="257.8" r="3.294"/><circle cx="1154.7" cy="279.5" r="3.294"/><circle cx="1154.0" cy="282.7" r="3.294"/><circle cx="1158.9" cy="285.7" r="3.294"/><circle cx="1168.8" cy="284.8" r="3.294"/><circle cx="1182.4" cy="294.1" r="3.294"/><circle cx="1183.0" cy="302.4" r="3.294"/><circle cx="1137.9" cy="302.8" r="3.294"/><circle cx="1152.7" cy="303.1" r="3.294"/><circle cx="1159.2" cy="304.4" r="3.294"/><circle cx="1169.2" cy="306.0" r="3.294"/><circle cx="1151.5" cy="311.8" r="3.294"/><circle cx="1163.3" cy="315.3" r="3.294"/><circle cx="1136.0" cy="311.5" r="3.294"/><circle cx="1196.1" cy="309.9" r="3.294"/><circle cx="1202.1" cy="314.4" r="3.294"/><circle cx="1190.3" cy="321.5" r="3.294"/><circle cx="1214.3" cy="318.1" r="3.294"/><circle cx="1211.7" cy="328.6" r="3.294"/><circle cx="1209.1" cy="331.4" r="3.294"/><circle cx="1225.1" cy="305.0" r="3.294"/><circle cx="1230.0" cy="301.8" r="3.294"/><circle cx="1230.0" cy="302.1" r="3.294"/><circle cx="1232.3" cy="309.8" r="3.294"/><circle cx="1243.5" cy="299.0" r="3.294"/><circle cx="1251.5" cy="299.5" r="3.294"/><circle cx="1256.1" cy="316.2" r="3.294"/><circle cx="1143.1" cy="322.4" r="3.294"/><circle cx="1136.0" cy="328.8" r="3.294"/><circle cx="1158.5" cy="327.8" r="3.294"/><circle cx="1166.6" cy="333.7" r="3.294"/><circle cx="1146.9" cy="337.8" r="3.294"/><circle cx="1148.9" cy="340.8" r="3.294"/><circle cx="1165.6" cy="342.7" r="3.294"/><circle cx="1176.3" cy="343.9" r="3.294"/><circle cx="1213.9" cy="346.5" r="3.294"/><circle cx="1269.0" cy="335.0" r="3.294"/><circle cx="1271.2" cy="344.3" r="3.294"/><circle cx="1286.9" cy="342.1" r="3.294"/><circle cx="1161.1" cy="352.5" r="3.294"/><circle cx="1179.1" cy="350.6" r="3.294"/><circle cx="1181.7" cy="353.8" r="3.294"/><circle cx="1170.8" cy="357.0" r="3.294"/><circle cx="1177.2" cy="359.6" r="3.294"/><circle cx="1166.3" cy="360.9" r="3.294"/><circle cx="1142.4" cy="361.5" r="3.294"/><circle cx="1149.3" cy="361.9" r="3.294"/><circle cx="1204.6" cy="352.1" r="3.294"/><circle cx="1213.9" cy="348.6" r="3.294"/><circle cx="1216.5" cy="352.1" r="3.294"/><circle cx="1199.5" cy="361.3" r="3.294"/><circle cx="1248.7" cy="356.1" r="3.294"/><circle cx="1168.8" cy="372.5" r="3.294"/><circle cx="1165.0" cy="381.5" r="3.294"/><circle cx="1159.6" cy="382.1" r="3.294"/><circle cx="1149.5" cy="383.0" r="3.294"/><circle cx="1152.7" cy="387.3" r="3.294"/><circle cx="1144.4" cy="389.5" r="3.294"/><circle cx="1140.9" cy="391.5" r="3.294"/><circle cx="1180.2" cy="393.3" r="3.294"/><circle cx="1190.7" cy="385.1" r="3.294"/><circle cx="1190.7" cy="391.1" r="3.294"/><circle cx="1198.8" cy="391.5" r="3.294"/><circle cx="1206.8" cy="389.8" r="3.294"/><circle cx="1204.0" cy="394.1" r="3.294"/><circle cx="1207.1" cy="395.6" r="3.294"/><circle cx="1215.8" cy="393.7" r="3.294"/><circle cx="1147.6" cy="398.0" r="3.294"/><circle cx="1155.3" cy="399.5" r="3.294"/><circle cx="1174.2" cy="403.4" r="3.294"/><circle cx="1198.1" cy="403.4" r="3.294"/><circle cx="1221.6" cy="401.7" r="3.294"/><circle cx="1217.4" cy="405.9" r="3.294"/><circle cx="1186.2" cy="412.4" r="3.294"/><circle cx="1209.1" cy="415.6" r="3.294"/><circle cx="1204.6" cy="419.5" r="3.294"/><circle cx="1184.9" cy="424.0" r="3.294"/><circle cx="1202.3" cy="428.7" r="3.294"/><circle cx="1216.5" cy="428.9" r="3.294"/><circle cx="1142.2" cy="417.5" r="3.294"/><circle cx="1137.9" cy="416.2" r="3.294"/><circle cx="1153.4" cy="421.0" r="3.294"/><circle cx="1136.0" cy="422.7" r="3.294"/><circle cx="1208.1" cy="441.0" r="3.294"/><circle cx="1222.3" cy="440.7" r="3.294"/><circle cx="1151.2" cy="443.3" r="3.294"/><circle cx="1249.1" cy="383.4" r="3.294"/><circle cx="1273.8" cy="381.5" r="3.294"/><circle cx="1261.9" cy="394.4" r="3.294"/><circle cx="1253.4" cy="397.6" r="3.294"/><circle cx="1266.1" cy="433.4" r="3.294"/><circle cx="1272.7" cy="432.1" r="3.294"/><circle cx="1139.9" cy="448.9" r="3.294"/><circle cx="1145.0" cy="448.5" r="3.294"/><circle cx="1136.0" cy="451.5" r="3.294"/><circle cx="1168.2" cy="448.5" r="3.294"/><circle cx="1182.6" cy="448.5" r="3.294"/><circle cx="1230.6" cy="454.1" r="3.294"/><circle cx="1264.5" cy="460.5" r="3.294"/><circle cx="1138.6" cy="465.7" r="3.294"/><circle cx="1145.4" cy="465.0" r="3.294"/><circle cx="1209.1" cy="465.4" r="3.294"/><circle cx="1219.1" cy="471.7" r="3.294"/><circle cx="1224.2" cy="477.5" r="3.294"/><circle cx="1139.2" cy="476.9" r="3.294"/><circle cx="1222.3" cy="486.9" r="3.294"/><circle cx="1223.6" cy="502.0" r="3.294"/><circle cx="1231.9" cy="502.6" r="3.294"/><circle cx="1234.1" cy="503.7" r="3.294"/><circle cx="1245.8" cy="500.2" r="3.294"/><circle cx="1215.2" cy="506.2" r="3.294"/><circle cx="1207.9" cy="509.5" r="3.294"/><circle cx="1264.8" cy="505.6" r="3.294"/><circle cx="1219.7" cy="516.3" r="3.294"/><circle cx="1157.0" cy="515.2" r="3.294"/><circle cx="1262.2" cy="525.5" r="3.294"/><circle cx="1221.0" cy="535.6" r="3.294"/><circle cx="1186.9" cy="540.0" r="3.294"/><circle cx="1147.6" cy="539.5" r="3.294"/><circle cx="1251.2" cy="543.8" r="3.294"/><circle cx="1236.1" cy="550.5" r="3.294"/><circle cx="1251.0" cy="546.0" r="3.294"/><circle cx="1263.5" cy="554.0" r="3.294"/><circle cx="1257.7" cy="556.6" r="3.294"/><circle cx="1258.1" cy="556.9" r="3.294"/><circle cx="1212.9" cy="556.6" r="3.294"/><circle cx="1194.2" cy="559.3" r="3.294"/><circle cx="1199.1" cy="562.4" r="3.294"/><circle cx="1219.1" cy="562.4" r="3.294"/><circle cx="1232.8" cy="565.3" r="3.294"/><circle cx="1144.4" cy="564.0" r="3.294"/><circle cx="1160.7" cy="563.1" r="3.294"/><circle cx="1176.8" cy="565.6" r="3.294"/><circle cx="1176.3" cy="570.9" r="3.294"/><circle cx="1196.3" cy="572.1" r="3.294"/><circle cx="1209.4" cy="569.2" r="3.294"/><circle cx="1225.2" cy="575.0" r="3.294"/><circle cx="1218.4" cy="578.4" r="3.294"/><circle cx="1169.5" cy="578.8" r="3.294"/><circle cx="1164.6" cy="585.0" r="3.294"/><circle cx="1197.4" cy="584.0" r="3.294"/><circle cx="1207.5" cy="587.5" r="3.294"/><circle cx="1239.0" cy="581.4" r="3.294"/><circle cx="1238.8" cy="584.0" r="3.294"/><circle cx="1258.3" cy="588.5" r="3.294"/><circle cx="1249.3" cy="594.3" r="3.294"/><circle cx="1222.9" cy="595.3" r="3.294"/><circle cx="1207.9" cy="600.5" r="3.294"/><circle cx="1225.5" cy="603.0" r="3.294"/><circle cx="1192.4" cy="604.6" r="3.294"/><circle cx="1191.4" cy="613.3" r="3.294"/><circle cx="1192.4" cy="618.8" r="3.294"/><circle cx="1227.4" cy="613.0" r="3.294"/><circle cx="1240.7" cy="609.4" r="3.294"/><circle cx="1184.3" cy="627.4" r="3.294"/><circle cx="1214.5" cy="624.9" r="3.294"/><circle cx="1293.4" cy="612.6" r="3.294"/><circle cx="1359.9" cy="288.3" r="3.294"/><circle cx="1376.9" cy="631.3" r="3.294"/><circle cx="1137.9" cy="644.6" r="3.294"/><circle cx="1147.6" cy="644.6" r="3.294"/><circle cx="1152.1" cy="644.6" r="3.294"/><circle cx="1156.4" cy="644.6" r="3.294"/><circle cx="1166.5" cy="644.6" r="3.294"/><circle cx="1175.6" cy="644.6" r="3.294"/><circle cx="1180.4" cy="644.6" r="3.294"/><circle cx="1192.1" cy="644.6" r="3.294"/><circle cx="1192.6" cy="644.6" r="3.294"/><circle cx="1202.0" cy="644.6" r="3.294"/><circle cx="1218.2" cy="644.6" r="3.294"/><circle cx="1234.2" cy="644.6" r="3.294"/><circle cx="1184.3" cy="627.3" r="3.294"/><circle cx="1214.5" cy="626.0" r="3.294"/><circle cx="947.7" cy="634.6" r="3.294"/><circle cx="1062.2" cy="620.8" r="3.294"/><circle cx="1091.7" cy="495.2" r="3.294"/><circle cx="1080.2" cy="433.6" r="3.294"/><circle cx="1051.7" cy="547.1" r="3.294"/><circle cx="1050.8" cy="486.0" r="3.294"/><circle cx="1072.4" cy="584.2" r="3.294"/><circle cx="1009.4" cy="635.2" r="3.294"/><circle cx="1095.0" cy="570.5" r="3.294"/><circle cx="1051.7" cy="541.7" r="3.294"/><circle cx="1000.1" cy="477.9" r="3.294"/><circle cx="1025.6" cy="529.8" r="3.294"/><circle cx="1028.8" cy="572.0" r="3.294"/><circle cx="1134.0" cy="450.3" r="3.294"/><circle cx="1088.2" cy="502.5" r="3.294"/><circle cx="1054.8" cy="416.1" r="3.294"/><circle cx="1073.3" cy="630.3" r="3.294"/><circle cx="1044.2" cy="453.7" r="3.294"/><circle cx="1012.3" cy="521.9" r="3.294"/><circle cx="1099.1" cy="569.9" r="3.294"/><circle cx="1115.9" cy="406.4" r="3.294"/><circle cx="1031.5" cy="511.2" r="3.294"/><circle cx="1131.9" cy="377.5" r="3.294"/><circle cx="1047.8" cy="381.3" r="3.294"/><circle cx="1051.8" cy="423.9" r="3.294"/><circle cx="1113.7" cy="556.9" r="3.294"/><circle cx="1112.7" cy="621.0" r="3.294"/><circle cx="1102.7" cy="394.1" r="3.294"/><circle cx="1084.3" cy="628.0" r="3.294"/><circle cx="1025.0" cy="549.9" r="3.294"/><circle cx="1130.8" cy="466.5" r="3.294"/><circle cx="1113.9" cy="447.3" r="3.294"/><circle cx="1044.4" cy="607.2" r="3.294"/><circle cx="1072.8" cy="547.6" r="3.294"/><circle cx="1055.9" cy="435.5" r="3.294"/><circle cx="1025.2" cy="632.0" r="3.294"/><circle cx="1123.7" cy="434.5" r="3.294"/><circle cx="1082.0" cy="384.8" r="3.294"/><circle cx="1127.8" cy="393.8" r="3.294"/><circle cx="1091.3" cy="484.9" r="3.294"/><circle cx="1029.3" cy="420.1" r="3.294"/><circle cx="1089.6" cy="574.4" r="3.294"/><circle cx="995.7" cy="483.8" r="3.294"/><circle cx="1096.6" cy="445.9" r="3.294"/><circle cx="1118.9" cy="353.4" r="3.294"/><circle cx="1036.9" cy="583.7" r="3.294"/><circle cx="1084.2" cy="522.3" r="3.294"/><circle cx="1020.7" cy="636.9" r="3.294"/><circle cx="959.8" cy="470.5" r="3.294"/><circle cx="1119.8" cy="477.3" r="3.294"/><circle cx="1055.3" cy="621.9" r="3.294"/><circle cx="1091.9" cy="408.7" r="3.294"/><circle cx="1103.9" cy="562.6" r="3.294"/><circle cx="1098.6" cy="572.7" r="3.294"/><circle cx="1095.6" cy="528.0" r="3.294"/><circle cx="1102.8" cy="597.4" r="3.294"/><circle cx="1100.6" cy="574.8" r="3.294"/><circle cx="1122.4" cy="438.9" r="3.294"/><circle cx="1118.5" cy="482.7" r="3.294"/><circle cx="1088.7" cy="540.3" r="3.294"/><circle cx="1078.6" cy="627.1" r="3.294"/><circle cx="1118.7" cy="431.9" r="3.294"/><circle cx="1091.8" cy="496.7" r="3.294"/><circle cx="1040.4" cy="464.4" r="3.294"/><circle cx="1012.1" cy="552.1" r="3.294"/><circle cx="979.2" cy="563.4" r="3.294"/><circle cx="1089.2" cy="603.7" r="3.294"/><circle cx="1064.4" cy="403.4" r="3.294"/><circle cx="1062.4" cy="520.3" r="3.294"/><circle cx="1037.9" cy="555.3" r="3.294"/><circle cx="1091.9" cy="590.6" r="3.294"/><circle cx="1096.3" cy="496.0" r="3.294"/><circle cx="1077.9" cy="531.5" r="3.294"/><circle cx="1039.2" cy="578.9" r="3.294"/><circle cx="1039.4" cy="358.1" r="3.294"/><circle cx="1082.3" cy="365.7" r="3.294"/><circle cx="1042.9" cy="355.6" r="3.294"/><circle cx="1044.4" cy="523.0" r="3.294"/><circle cx="1084.7" cy="491.3" r="3.294"/><circle cx="1114.7" cy="496.9" r="3.294"/><circle cx="1098.8" cy="604.3" r="3.294"/><circle cx="1048.8" cy="412.4" r="3.294"/><circle cx="1080.3" cy="603.3" r="3.294"/><circle cx="1019.6" cy="527.6" r="3.294"/><circle cx="1042.1" cy="617.5" r="3.294"/><circle cx="1122.0" cy="478.7" r="3.294"/><circle cx="1058.8" cy="402.8" r="3.294"/><circle cx="1107.8" cy="487.3" r="3.294"/><circle cx="1038.7" cy="375.8" r="3.294"/><circle cx="1116.4" cy="569.7" r="3.294"/><circle cx="1076.9" cy="585.2" r="3.294"/><circle cx="1032.5" cy="422.7" r="3.294"/><circle cx="1105.1" cy="562.0" r="3.294"/><circle cx="1118.5" cy="549.9" r="3.294"/><circle cx="1003.3" cy="595.6" r="3.294"/><circle cx="1087.2" cy="552.4" r="3.294"/><circle cx="999.3" cy="528.8" r="3.294"/><circle cx="958.0" cy="635.7" r="3.294"/><circle cx="1081.3" cy="547.1" r="3.294"/><circle cx="1096.9" cy="615.4" r="3.294"/><circle cx="1069.1" cy="429.9" r="3.294"/><circle cx="1004.8" cy="557.7" r="3.294"/><circle cx="997.8" cy="473.9" r="3.294"/><circle cx="1128.3" cy="482.1" r="3.294"/><circle cx="1074.6" cy="627.3" r="3.294"/><circle cx="1111.8" cy="412.8" r="3.294"/><circle cx="1100.6" cy="601.9" r="3.294"/><circle cx="1065.6" cy="446.5" r="3.294"/><circle cx="1134.1" cy="550.2" r="3.294"/><circle cx="1085.2" cy="547.5" r="3.294"/><circle cx="1113.5" cy="613.1" r="3.294"/><circle cx="965.4" cy="494.5" r="3.294"/><circle cx="1052.1" cy="442.3" r="3.294"/><circle cx="1043.8" cy="429.0" r="3.294"/><circle cx="1040.6" cy="459.1" r="3.294"/><circle cx="1071.9" cy="531.1" r="3.294"/><circle cx="978.8" cy="362.9" r="3.294"/><circle cx="1091.8" cy="524.4" r="3.294"/><circle cx="1120.4" cy="427.0" r="3.294"/><circle cx="1127.2" cy="424.1" r="3.294"/><circle cx="969.9" cy="610.6" r="3.294"/><circle cx="1002.4" cy="614.6" r="3.294"/><circle cx="1045.6" cy="410.9" r="3.294"/><circle cx="1074.2" cy="563.6" r="3.294"/><circle cx="1113.7" cy="460.8" r="3.294"/><circle cx="1134.3" cy="403.1" r="3.294"/><circle cx="1125.9" cy="531.4" r="3.294"/><circle cx="1125.7" cy="463.6" r="3.294"/><circle cx="1087.3" cy="564.9" r="3.294"/><circle cx="1062.3" cy="419.9" r="3.294"/><circle cx="1072.7" cy="534.4" r="3.294"/><circle cx="1093.5" cy="557.9" r="3.294"/><circle cx="1091.7" cy="502.0" r="3.294"/><circle cx="1054.1" cy="592.3" r="3.294"/><circle cx="1044.9" cy="527.4" r="3.294"/><circle cx="1134.5" cy="375.8" r="3.294"/><circle cx="957.6" cy="599.5" r="3.294"/><circle cx="1107.8" cy="531.2" r="3.294"/><circle cx="1076.0" cy="423.4" r="3.294"/><circle cx="1020.9" cy="633.5" r="3.294"/><circle cx="1089.9" cy="408.0" r="3.294"/><circle cx="1112.9" cy="587.4" r="3.294"/><circle cx="1056.3" cy="524.5" r="3.294"/><circle cx="1062.2" cy="407.5" r="3.294"/><circle cx="1119.7" cy="553.5" r="3.294"/><circle cx="1071.4" cy="584.3" r="3.294"/><circle cx="1053.4" cy="485.4" r="3.294"/><circle cx="1085.2" cy="619.5" r="3.294"/><circle cx="1076.9" cy="523.6" r="3.294"/><circle cx="1100.0" cy="533.1" r="3.294"/><circle cx="1025.8" cy="587.4" r="3.294"/><circle cx="1022.8" cy="522.4" r="3.294"/><circle cx="1004.5" cy="631.3" r="3.294"/><circle cx="953.4" cy="593.0" r="3.294"/><circle cx="1019.4" cy="567.6" r="3.294"/><circle cx="1094.4" cy="432.5" r="3.294"/><circle cx="1040.5" cy="516.3" r="3.294"/><circle cx="1112.4" cy="558.8" r="3.294"/><circle cx="992.8" cy="628.6" r="3.294"/><circle cx="1117.9" cy="573.5" r="3.294"/><circle cx="1083.0" cy="362.2" r="3.294"/><circle cx="1013.4" cy="255.1" r="3.294"/><circle cx="1038.0" cy="271.9" r="3.294"/><circle cx="1043.7" cy="313.4" r="3.294"/><circle cx="1029.9" cy="331.8" r="3.294"/><circle cx="1042.5" cy="334.6" r="3.294"/><circle cx="1052.7" cy="254.4" r="3.294"/><circle cx="1066.5" cy="255.7" r="3.294"/><circle cx="1094.6" cy="253.8" r="3.294"/><circle cx="1106.8" cy="253.5" r="3.294"/><circle cx="1118.6" cy="250.9" r="3.294"/><circle cx="1134.1" cy="251.6" r="3.294"/><circle cx="1131.5" cy="258.0" r="3.294"/><circle cx="1090.7" cy="270.0" r="3.294"/><circle cx="1077.8" cy="272.8" r="3.294"/><circle cx="1066.8" cy="275.8" r="3.294"/><circle cx="1093.8" cy="278.0" r="3.294"/><circle cx="1094.4" cy="285.7" r="3.294"/><circle cx="1090.3" cy="289.9" r="3.294"/><circle cx="1124.2" cy="278.9" r="3.294"/><circle cx="1116.3" cy="286.7" r="3.294"/><circle cx="1096.5" cy="296.9" r="3.294"/><circle cx="1109.0" cy="298.9" r="3.294"/><circle cx="1066.5" cy="296.9" r="3.294"/><circle cx="1058.4" cy="305.9" r="3.294"/><circle cx="1088.4" cy="305.0" r="3.294"/><circle cx="1094.2" cy="308.4" r="3.294"/><circle cx="1086.1" cy="314.0" r="3.294"/><circle cx="1127.6" cy="305.0" r="3.294"/><circle cx="1135.4" cy="303.0" r="3.294"/><circle cx="1127.6" cy="315.3" r="3.294"/><circle cx="1115.2" cy="314.0" r="3.294"/><circle cx="1134.1" cy="310.8" r="3.294"/><circle cx="1121.6" cy="325.2" r="3.294"/><circle cx="1049.1" cy="324.9" r="3.294"/><circle cx="1055.6" cy="330.3" r="3.294"/><circle cx="1087.7" cy="334.9" r="3.294"/><circle cx="1089.7" cy="339.1" r="3.294"/><circle cx="1115.4" cy="336.5" r="3.294"/><circle cx="1120.6" cy="337.8" r="3.294"/><circle cx="1104.5" cy="342.3" r="3.294"/><circle cx="1112.2" cy="344.2" r="3.294"/><circle cx="1090.3" cy="346.1" r="3.294"/><circle cx="1044.0" cy="313.3" r="3.294"/><circle cx="1044.0" cy="334.6" r="3.294"/><circle cx="1054.9" cy="346.1" r="3.294"/><circle cx="1135.4" cy="328.1" r="3.294"/><circle cx="970.6" cy="644.6" r="3.294"/><circle cx="1012.2" cy="644.6" r="3.294"/><circle cx="1014.3" cy="644.6" r="3.294"/><circle cx="1016.5" cy="644.6" r="3.294"/><circle cx="1025.5" cy="644.6" r="3.294"/><circle cx="1055.4" cy="644.6" r="3.294"/><circle cx="1063.4" cy="644.6" r="3.294"/><circle cx="1063.8" cy="644.6" r="3.294"/><circle cx="1077.2" cy="644.6" r="3.294"/><circle cx="1079.4" cy="644.6" r="3.294"/><circle cx="1118.8" cy="644.6" r="3.294"/><circle cx="1145.5" cy="644.6" r="3.294"/><circle cx="970.1" cy="637.8" r="3.294"/><circle cx="1015.9" cy="635.1" r="3.294"/><circle cx="1077.2" cy="635.7" r="3.294"/><circle cx="1071.9" cy="638.9" r="3.294"/><circle cx="1090.0" cy="636.2" r="3.294"/><circle cx="1098.0" cy="635.7" r="3.294"/><circle cx="1103.9" cy="639.9" r="3.294"/></g></g>
<g clip-path="url(#c2)" shape-rendering="crispEdges"><g fill="#f44336" fill-opacity=".8"><rect x="1711.49" y="565.2" width="59.23" height="103.08"/><rect x="1880.71" y="492.2" width="59.23" height="176.08"/><rect x="2049.93" y="341.1" width="59.23" height="327.18"/><rect x="2219.14" y="181.8" width="59.23" height="486.48"/></g><g fill="#2196f3" fill-opacity=".8"><rect x="1770.72" y="644" width="59.23" height="24.28"/><rect x="1939.94" y="630.2" width="59.23" height="38.08"/><rect x="2109.15" y="563.9" width="59.23" height="104.38"/><rect x="2278.37" y="311.05" width="59.23" height="357.23"/></g></g>
<g fill="#2a2a2a" shape-rendering="crispEdges"><rect x="103" y="157" width="691" height="2"/><rect x="103" y="667" width="691" height="2"/><rect x="103" y="157" width="2" height="512"/><rect x="792" y="157" width="2" height="512"/><rect x="126" y="669" width="2" height="6"/><rect x="212" y="669" width="2" height="6"/><rect x="299" y="669" width="2" height="6"/><rect x="385" y="669" width="2" height="6"/><rect x="471" y="669" width="2" height="6"/><rect x="558" y="669" width="2" height="6"/><rect x="644" y="669" width="2" height="6"/><rect x="731" y="669" width="2" height="6"/><rect x="97" y="667" width="6" height="2"/><rect x="97" y="608" width="6" height="2"/><rect x="97" y="548" width="6" height="2"/><rect x="97" y="489" width="6" height="2"/><rect x="97" y="429" width="6" height="2"/><rect x="97" y="370" width="6" height="2"/><rect x="97" y="310" width="6" height="2"/><rect x="97" y="251" width="6" height="2"/><rect x="97" y="191" width="6" height="2"/><rect x="891" y="157" width="691" height="2"/><rect x="891" y="667" width="691" height="2"/><rect x="891" y="157" width="2" height="512"/><rect x="1580" y="157" width="2" height="512"/><rect x="905" y="669" width="2" height="6"/><rect x="997" y="669" width="2" height="6"/><rect x="1089" y="669" width="2" height="6"/><rect x="1181" y="669" width="2" height="6"/><rect x="1273" y="669" width="2" height="6"/><rect x="1365" y="669" width="2" height="6"/><rect x="1457" y="669" width="2" height="6"/><rect x="1549" y="669" width="2" height="6"/><rect x="885" y="644" width="6" height="2"/><rect x="885" y="545" width="6" height="2"/><rect x="885" y="446" width="6" height="2"/><rect x="885" y="347" width="6" height="2"/><rect x="885" y="248" width="6" height="2"/><rect x="1679" y="157" width="691" height="2"/><rect x="1679" y="667" width="691" height="2"/><rect x="1679" y="157" width="2" height="512"/><rect x="2368" y="157" width="2" height="512"/><rect x="1770" y="669" width="2" height="6"/><rect x="1939" y="669" width="2" height="6"/><rect x="2108" y="669" width="2" height="6"/><rect x="2277" y="669" width="2" height="6"/><rect x="1673" y="667" width="6" height="2"/><rect x="1673" y="572" width="6" height="2"/><rect x="1673" y="476" width="6" height="2"/><rect x="1673" y="381" width="6" height="2"/><rect x="1673" y="285" width="6" height="2"/><rect x="1673" y="190" width="6" height="2"/></g>
<rect x="574.15" y="167.1" width="209.75" height="50.65" rx="3.3" ry="3.3" fill="#fff" fill-opacity=".8" stroke="#ccc" stroke-opacity=".8" stroke-width="2.083"/><rect x="581.1" y="174.25" width="32.8" height="10.51" fill="#999999" fill-opacity="0.6" shape-rendering="crispEdges"/><rect x="581.1" y="197.1" width="32.8" height="11.7" fill="#4CAF50" fill-opacity="0.6" shape-rendering="crispEdges"/>
<rect x="1689.2" y="167.2" width="186.3" height="50.4" rx="3.3" ry="3.3" fill="#fff" fill-opacity=".8" stroke="#ccc" stroke-opacity=".8" stroke-width="2.083"/><rect x="1695.1" y="174.2" width="33.8" height="10.4" fill="#f44336" fill-opacity="0.8" shape-rendering="crispEdges"/><rect x="1695.1" y="197.05" width="33.8" height="11.65" fill="#2196f3" fill-opacity="0.8" shape-rendering="crispEdges"/>
<g opacity=".999"><text x="972.38" y="35" font-size="28.44" textLength="438.75" lengthAdjust="spacingAndGlyphs">Genome Size Confound Analysis</text><text x="269.77" y="117.8" font-size="26.25" textLength="357.75" lengthAdjust="spacingAndGlyphs">Genome Size: PHB+ vs PHB-</text><text x="358.71" y="146.9" font-size="26.25" textLength="179.88" lengthAdjust="spacingAndGlyphs">(p=0.00e+00)</text><text x="347.46" y="727.2" font-size="21.88" textLength="202.38" lengthAdjust="spacingAndGlyphs">Genome size (Mbp)</text><text x="32" y="455.8" font-size="21.88" textLength="79.25" lengthAdjust="spacingAndGlyphs" transform="rotate(-90 32 455.8)">Density</text><text x="120.38" y="698.87" font-size="21.88" textLength="13.25" lengthAdjust="spacingAndGlyphs">0</text><text x="206.74" y="698.87" font-size="21.88" textLength="13.25" lengthAdjust="spacingAndGlyphs">2</text><text x="293.1" y="698.87" font-size="21.88" textLength="13.25" lengthAdjust="spacingAndGlyphs">4</text><text x="379.39" y="698.87" font-size="21.88" textLength="13.38" lengthAdjust="spacingAndGlyphs">6</text><text x="465.88" y="698.87" font-size="21.88" textLength="13.12" lengthAdjust="spacingAndGlyphs">8</text><text x="545.55" y="698.87" font-size="21.88" textLength="26.5" lengthAdjust="spacingAndGlyphs">10</text><text x="631.91" y="698.87" font-size="21.88" textLength="26.5" lengthAdjust="spacingAndGlyphs">12</text><text x="718.27" y="698.87" font-size="21.88" textLength="26.5" lengthAdjust="spacingAndGlyphs">14</text><text x="43.33" y="676.28" font-size="21.88" textLength="46.38" lengthAdjust="spacingAndGlyphs">0.00</text><text x="43.33" y="616.75" font-size="21.88" textLength="46.38" lengthAdjust="spacingAndGlyphs">0.05</text><text x="43.33" y="557.21" font-size="21.88" textLength="46.38" lengthAdjust="spacingAndGlyphs">0.10</text><text x="43.33" y="497.68" font-size="21.88" textLength="46.38" lengthAdjust="spacingAndGlyphs">0.15</text><text x="43.33" y="438.14" font-size="21.88" textLength="46.38" lengthAdjust="spacingAndGlyphs">0.20</text><text x="43.33" y="378.61" font-size="21.88" textLength="46.38" lengthAdjust="spacingAndGlyphs">0.25</text><text x="43.33" y="319.07" font-size="21.88" textLength="46.38" lengthAdjust="spacingAndGlyphs">0.30</text><text x="43.33" y="259.54" font-size="21.88" textLength="46.38" lengthAdjust="spacingAndGlyphs">0.35</text><text x="43.33" y="200" font-size="21.88" textLength="46.38" lengthAdjust="spacingAndGlyphs">0.40</text><text x="628.5" y="185.9" font-size="17.5" textLength="149.2" lengthAdjust="spacingAndGlyphs">phaC- (n=21,623)</text><text x="628.5" y="209.1" font-size="17.5" textLength="146.6" lengthAdjust="spacingAndGlyphs">phaC+ (n=6,067)</text><text x="1043.33" y="117.8" font-size="26.25" textLength="386.88" lengthAdjust="spacingAndGlyphs">Genome Size vs Niche Breadth</text><text x="1107.52" y="146.9" font-size="26.25" textLength="258.5" lengthAdjust="spacingAndGlyphs">(size-emb rho=0.30)</text><text x="1135.58" y="727.2" font-size="21.88" textLength="202.38" lengthAdjust="spacingAndGlyphs">Genome size (Mbp)</text><text x="830.9" y="604.8" font-size="21.88" textLength="382.25" lengthAdjust="spacingAndGlyphs" transform="rotate(-90 830.9 604.8)">Embedding variance (niche breadth)</text><text x="899.27" y="698.87" font-size="21.88" textLength="13.25" lengthAdjust="spacingAndGlyphs">0</text><text x="991.33" y="698.87" font-size="21.88" textLength="13.25" lengthAdjust="spacingAndGlyphs">2</text><text x="1083.39" y="698.87" font-size="21.88" textLength="13.25" lengthAdjust="spacingAndGlyphs">4</text><text x="1175.39" y="698.87" font-size="21.88" textLength="13.38" lengthAdjust="spacingAndGlyphs">6</text><text x="1267.58" y="698.87" font-size="21.88" textLength="13.12" lengthAdjust="spacingAndGlyphs">8</text><text x="1352.95" y="698.87" font-size="21.88" textLength="26.5" lengthAdjust="spacingAndGlyphs">10</text><text x="1445.01" y="698.87" font-size="21.88" textLength="26.5" lengthAdjust="spacingAndGlyphs">12</text><text x="1537.07" y="698.87" font-size="21.88" textLength="26.5" lengthAdjust="spacingAndGlyphs">14</text><text x="844.71" y="652.66" font-size="21.88" textLength="33.12" lengthAdjust="spacingAndGlyphs">0.0</text><text x="844.71" y="553.84" font-size="21.88" textLength="33.12" lengthAdjust="spacingAndGlyphs">0.2</text><text x="844.71" y="455.02" font-size="21.88" textLength="33.12" lengthAdjust="spacingAndGlyphs">0.4</text><text x="844.58" y="356.2" font-size="21.88" textLength="33.25" lengthAdjust="spacingAndGlyphs">0.6</text><text x="844.83" y="257.38" font-size="21.88" textLength="33" lengthAdjust="spacingAndGlyphs">0.8</text><text x="1819.96" y="117.8" font-size="26.25" textLength="409.88" lengthAdjust="spacingAndGlyphs">PHB Enrichment by Environment</text><text x="1837.83" y="146.9" font-size="26.25" textLength="374.12" lengthAdjust="spacingAndGlyphs">Within Genome Size Quartiles</text><text x="1913.77" y="749.6" font-size="21.88" textLength="222.25" lengthAdjust="spacingAndGlyphs">Genome size quartile</text><text x="1626.2" y="463.2" font-size="21.88" textLength="97.62" lengthAdjust="spacingAndGlyphs" transform="rotate(-90 1626.2 463.2)">% phaC+</text><text x="1756.26" y="698.87" font-size="21.88" textLength="29.62" lengthAdjust="spacingAndGlyphs">Q1</text><text x="1735.13" y="722.07" font-size="21.88" textLength="71.88" lengthAdjust="spacingAndGlyphs">(small)</text><text x="1925.48" y="698.87" font-size="21.88" textLength="29.62" lengthAdjust="spacingAndGlyphs">Q2</text><text x="2094.69" y="698.87" font-size="21.88" textLength="29.62" lengthAdjust="spacingAndGlyphs">Q3</text><text x="2263.91" y="698.87" font-size="21.88" textLength="29.62" lengthAdjust="spacingAndGlyphs">Q4</text><text x="2244.09" y="722.07" font-size="21.88" textLength="69.25" lengthAdjust="spacingAndGlyphs">(large)</text><text x="1652.71" y="676.28" font-size="21.88" textLength="13.25" lengthAdjust="spacingAndGlyphs">0</text><text x="1639.46" y="580.79" font-size="21.88" textLength="26.5" lengthAdjust="spacingAndGlyphs">10</text><text x="1639.46" y="485.29" font-size="21.88" textLength="26.5" lengthAdjust="spacingAndGlyphs">20</text><text x="1639.46" y="389.79" font-size="21.88" textLength="26.5" lengthAdjust="spacingAndGlyphs">30</text><text x="1639.46" y="294.3" font-size="21.88" textLength="26.5" lengthAdjust="spacingAndGlyphs">40</text><text x="1639.46" y="198.8" font-size="21.88" textLength="26.5" lengthAdjust="spacingAndGlyphs">50</text><text x="1742.2" y="185.6" font-size="17.5" textLength="126.6" lengthAdjust="spacingAndGlyphs">High variability</text><text x="1742.2" y="208.7" font-size="17.5" textLength="120.8" lengthAdjust="spacingAndGlyphs">Low variability</text></g>
</svg>
</body></html>
